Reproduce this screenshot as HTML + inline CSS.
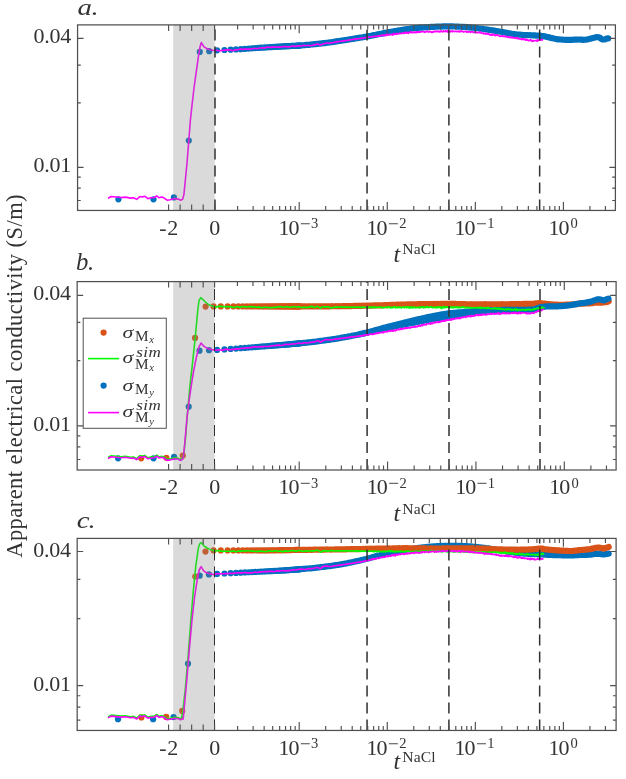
<!DOCTYPE html>
<html><head><meta charset="utf-8"><title>chart</title><style>html,body{margin:0;padding:0;background:#fff;overflow:hidden}</style></head><body><svg width="626" height="779" viewBox="0 0 626 779" style="display:block;will-change:transform;font-family:'Liberation Serif',serif"><g fill="#0072BD"><circle cx="118.4" cy="199.3" r="3.1"/><circle cx="153.5" cy="199.3" r="3.1"/><circle cx="173.9" cy="197.4" r="3.1"/><circle cx="188.8" cy="140.6" r="3.1"/><circle cx="199.8" cy="51.9" r="3.1"/><circle cx="209.2" cy="51.2" r="3.1"/><circle cx="217.03" cy="50.3" r="3.1"/><circle cx="224.45" cy="50" r="3.1"/><circle cx="230.67" cy="49.71" r="3.1"/><circle cx="236.01" cy="49.42" r="3.1"/><circle cx="240.7" cy="49.16" r="3.1"/><circle cx="244.88" cy="48.89" r="3.1"/><circle cx="248.64" cy="48.61" r="3.1"/><circle cx="252.07" cy="48.35" r="3.1"/><circle cx="255.21" cy="48.11" r="3.1"/><circle cx="258.12" cy="47.9" r="3.1"/><circle cx="260.82" cy="47.71" r="3.1"/><circle cx="263.34" cy="47.55" r="3.1"/><circle cx="265.71" cy="47.4" r="3.1"/><circle cx="267.94" cy="47.27" r="3.1"/><circle cx="270.04" cy="47.15" r="3.1"/><circle cx="272.04" cy="47.03" r="3.1"/><circle cx="273.93" cy="46.92" r="3.1"/><circle cx="275.74" cy="46.82" r="3.1"/><circle cx="277.47" cy="46.72" r="3.1"/><circle cx="279.12" cy="46.63" r="3.1"/><circle cx="280.7" cy="46.54" r="3.1"/><circle cx="282.22" cy="46.45" r="3.1"/><circle cx="283.68" cy="46.37" r="3.1"/><circle cx="285.09" cy="46.29" r="3.1"/><circle cx="286.45" cy="46.22" r="3.1"/><circle cx="287.76" cy="46.15" r="3.1"/><circle cx="289.03" cy="46.09" r="3.1"/><circle cx="290.26" cy="46.03" r="3.1"/><circle cx="291.45" cy="45.97" r="3.1"/><circle cx="292.6" cy="45.92" r="3.1"/><circle cx="293.72" cy="45.86" r="3.1"/><circle cx="294.81" cy="45.81" r="3.1"/><circle cx="295.86" cy="45.75" r="3.1"/><circle cx="296.89" cy="45.69" r="3.1"/><circle cx="297.89" cy="45.63" r="3.1"/><circle cx="298.87" cy="45.57" r="3.1"/><circle cx="299.82" cy="45.51" r="3.1"/></g><path d="M299 45.64 L300 45.48 L301 45.36 L302 45.35 L303 45.25 L304 45.18 L305 45.04 L306 44.95 L307 44.91 L308 44.94 L309 44.88 L310 44.66 L311 44.54 L312 44.43 L313 44.3 L314 44.2 L315 44.15 L316 44.05 L317 43.95 L318 43.84 L319 43.7 L320 43.64 L321 43.55 L322 43.36 L323 43.21 L324 43.13 L325 43.09 L326 42.94 L327 42.74 L328 42.65 L329 42.5 L330 42.32 L331 42.24 L332 42.13 L333 41.96 L334 41.82 L335 41.57 L336 41.43 L337 41.34 L338 41.09 L339 40.98 L340 40.91 L341 40.73 L342 40.51 L343 40.37 L344 40.24 L345 40.13 L346 40 L347 39.8 L348 39.66 L349 39.49 L350 39.26 L351 39.13 L352 39.03 L353 38.85 L354 38.64 L355 38.5 L356 38.28 L357 38.14 L358 38.08 L359 37.84 L360 37.66 L361 37.52 L362 37.38 L363 37.17 L364 36.94 L365 36.87 L366 36.77 L367 36.49 L368 36.24 L369 36.14 L370 35.95 L371 35.8 L372 35.58 L373 35.34 L374 35.14 L375 34.98 L376 34.81 L377 34.54 L378 34.28 L379 34.14 L380 34.03 L381 33.79 L382 33.6 L383 33.38 L384 33.12 L385 32.89 L386 32.69 L387 32.57 L388 32.36 L389 32.11 L390 31.97 L391 31.82 L392 31.67 L393 31.44 L394 31.18 L395 31.04 L396 30.96 L397 30.81 L398 30.6 L399 30.38 L400 30.21 L401 30.04 L402 29.89 L403 29.71 L404 29.53 L405 29.4 L406 29.26 L407 29.13 L408 29.06 L409 28.98 L410 28.82 L411 28.58 L412 28.41 L413 28.35 L414 28.28 L415 28.11 L416 28.04 L417 28.05 L418 27.87 L419 27.71 L420 27.64 L421 27.59 L422 27.55 L423 27.54 L424 27.44 L425 27.32 L426 27.26 L427 27.24 L428 27.2 L429 27.13 L430 27.01 L431 26.91 L432 26.86 L433 26.87 L434 26.88 L435 26.76 L436 26.68 L437 26.66 L438 26.61 L439 26.52 L440 26.52 L441 26.61 L442 26.55 L443 26.42 L444 26.37 L445 26.32 L446 26.37 L447 26.45 L448 26.43 L449 26.42 L450 26.44 L451 26.45 L452 26.41 L453 26.41 L454 26.5 L455 26.51 L456 26.53 L457 26.56 L458 26.6 L459 26.7 L460 26.73 L461 26.74 L462 26.82 L463 26.9 L464 26.98 L465 26.95 L466 26.99 L467 27.13 L468 27.19 L469 27.33 L470 27.45 L471 27.56 L472 27.63 L473 27.75 L474 27.84 L475 27.89 L476 28.03 L477 28.13 L478 28.3 L479 28.48 L480 28.61 L481 28.7 L482 28.75 L483 28.9 L484 29.08 L485 29.21 L486 29.35 L487 29.52 L488 29.72 L489 29.86 L490 30 L491 30.16 L492 30.25 L493 30.41 L494 30.57 L495 30.76 L496 31 L497 31.16 L498 31.31 L499 31.52 L500 31.67 L501 31.78 L502 31.93 L503 32.05 L504 32.27 L505 32.46 L506 32.65 L507 32.9 L508 33.11 L509 33.3 L510 33.42 L511 33.62 L512 33.8 L513 33.95 L514 34.12 L515 34.27 L516 34.38 L517 34.47 L518 34.56 L519 34.6 L520 34.67 L521 34.78 L522 34.89 L523 35.03 L524 34.98 L525 34.99 L526 35.11 L527 35.12 L528 35.19 L529 35.26 L530 35.22 L531 35.27 L532 35.37 L533 35.41 L534 35.41 L535 35.45 L536 35.56 L537 35.53 L538 35.53 L539 35.61 L540 35.68 L541 35.83 L542 35.98 L543 36.03 L544 36.16 L545 36.38 L546 36.68 L547 36.9 L548 37.08 L549 37.38 L550 37.62 L551 37.91 L552 38.12 L553 38.31 L554 38.57 L555 38.79 L556 38.95 L557 39.17 L558 39.36 L559 39.42 L560 39.47 L561 39.49 L562 39.59 L563 39.7 L564 39.74 L565 39.78 L566 39.81 L567 39.79 L568 39.82 L569 39.85 L570 39.82 L571 39.81 L572 39.82 L573 39.76 L574 39.65 L575 39.61 L576 39.64 L577 39.57 L578 39.49 L579 39.51 L580 39.62 L581 39.63 L582 39.67 L583 39.83 L584 39.81 L585 39.77 L586 39.68 L587 39.42 L588 39.2 L589 38.95 L590 38.7 L591 38.56 L592 38.28 L593 38.03 L594 37.81 L595 37.52 L596 37.32 L597 37.12 L598 37.16 L599 37.39 L600 37.72 L601 38.64 L602 39.37 L603 39.51 L604 39.51 L605 39.38 L606 38.83 L607 38.49 L608 38.33 L608.3 38.39" fill="none" stroke="#0072BD" stroke-width="6.2" stroke-linecap="round" stroke-linejoin="round"/>
<path d="M108 198.3 L111.2 196.5 L116 197 L120.8 197.5 L125.6 197.1 L130.4 198.1 L133.5 197.8 L136.7 199.4 L139.9 196.5 L142.3 197 L144.7 196.2 L147.9 198.6 L151.1 197.8 L154.3 197.5 L156.7 195.9 L159.1 197.8 L161.5 197 L163.9 197.8 L167.1 200.2 L170.3 199.7 L174.3 198.6 L178.3 199.1 L180.7 200.2 L182.7 199.1 L183.9 194.6 L185 183.6 L187 163 L188.8 140.6 L190.4 120 L192.1 104.4 L194 88 L196 73.7 L198.5 55.8 L200 47 L201.3 42.5 L202.3 44.3 L203.6 46.3 L205.5 47.8 L207.5 48.9 L210 49.7 L212.6 50.3 L214.7 50.45 L215.7 50.26 L216.7 50.26 L217.7 50.54 L218.7 50.75 L219.7 50.81 L220.7 50.6 L221.7 50.58 L222.7 50.41 L223.7 50.38 L224.7 50.12 L225.7 49.92 L226.7 49.85 L227.7 49.82 L228.7 49.85 L229.7 49.95 L230.7 50.03 L231.7 50.51 L232.7 50.48 L233.7 50.34 L234.7 49.98 L235.7 49.83 L236.7 49.76 L237.7 49.75 L238.7 49.53 L239.7 49.13 L240.7 49.03 L241.7 48.99 L242.7 49.57 L243.7 49.3 L244.7 49.15 L245.7 49.09 L246.7 48.96 L247.7 49.08 L248.7 48.99 L249.7 49.08 L250.7 48.96 L251.7 48.7 L252.7 48.72 L253.7 48.54 L254.7 48.54 L255.7 48.42 L256.7 48.79 L257.7 48.59 L258.7 48.31 L259.7 48.01 L260.7 47.94 L261.7 48.04 L262.7 47.89 L263.7 48.05 L264.7 47.86 L265.7 47.76 L266.7 47.18 L267.7 47.08 L268.7 47.25 L269.7 47.45 L270.7 47.42 L271.7 46.97 L272.7 47.09 L273.7 47.16 L274.7 47.1 L275.7 47.06 L276.7 47.01 L277.7 47.23 L278.7 46.99 L279.7 47.14 L280.7 47.04 L281.7 47.06 L282.7 46.69 L283.7 46.54 L284.7 46.63 L285.7 46.61 L286.7 46.75 L287.7 46.67 L288.7 46.85 L289.7 46.77 L290.7 46.64 L291.7 46.14 L292.7 46.03 L293.7 46.1 L294.7 46.35 L295.7 46.34 L296.7 46.11 L297.7 45.99 L298.7 45.72 L299.7 45.92 L300.7 45.94 L301.7 45.93 L302.7 45.49 L303.7 45.37 L304.7 45.56 L305.7 45.74 L306.7 45.57 L307.7 45.48 L308.7 45.53 L309.7 45.68 L310.7 45.49 L311.7 45.36 L312.7 45.2 L313.7 45.09 L314.7 44.7 L315.7 44.59 L316.7 44.07 L317.7 44.3 L318.7 44.15 L319.7 44.85 L320.7 45.03 L321.7 44.6 L322.7 43.97 L323.7 43.67 L324.7 43.52 L325.7 43.14 L326.7 42.93 L327.7 43.03 L328.7 43.28 L329.7 43.24 L330.7 42.98 L331.7 42.7 L332.7 42.69 L333.7 42.53 L334 42.21 L334.4 42.13 L334.8 42.21 L335.2 42.03 L335.6 42.02 L336 42.03 L336.4 42.01 L336.8 41.8 L337.2 41.92 L337.6 41.61 L338 41.78 L338.4 41.51 L338.8 41.48 L339.2 41.61 L339.6 41.44 L340 41.34 L340.4 41.32 L340.8 41.34 L341.2 41.23 L341.6 41.17 L342 41.22 L342.4 40.98 L342.8 40.94 L343.2 40.88 L343.6 40.98 L344 40.9 L344.4 40.87 L344.8 40.68 L345.2 40.61 L345.6 40.65 L346 40.46 L346.4 40.52 L346.8 40.45 L347.2 40.25 L347.6 40.25 L348 40.19 L348.4 40.31 L348.8 40.33 L349.2 40.01 L349.6 39.96 L350 39.67 L350.4 39.86 L350.8 39.78 L351.2 39.62 L351.6 39.74 L352 39.45 L352.4 39.52 L352.8 39.49 L353.2 39.29 L353.6 39.45 L354 39.41 L354.4 39.08 L354.8 39.01 L355.2 39.18 L355.6 39.04 L356 38.84 L356.4 38.89 L356.8 38.85 L357.2 38.78 L357.6 38.84 L358 38.73 L358.4 38.85 L358.8 38.74 L359.2 38.58 L359.6 38.58 L360 38.56 L360.4 38.41 L360.8 38.07 L361.2 38.32 L361.6 38.14 L362 38.32 L362.4 38.02 L362.8 38.03 L363.2 37.95 L363.6 38.11 L364 37.81 L364.4 37.68 L364.8 37.72 L365.2 37.53 L365.6 37.58 L366 37.5 L366.4 37.49 L366.8 37.74 L367.2 37.27 L367.6 37.29 L368 37.2 L368.4 37.31 L368.8 36.9 L369.2 36.94 L369.6 37.02 L370 37.08 L370.4 36.91 L370.8 36.77 L371.2 36.64 L371.6 36.87 L372 37.02 L372.4 36.74 L372.8 36.66 L373.2 36.66 L373.6 36.31 L374 36.4 L374.4 36.36 L374.8 36.44 L375.2 36.31 L375.6 35.99 L376 36.48 L376.4 36.57 L376.8 36.06 L377.2 36.17 L377.6 36.09 L378 36.17 L378.4 35.57 L378.8 36.28 L379.2 35.72 L379.6 36.11 L380 35.76 L380.4 35.6 L380.8 35.61 L381.2 35.84 L381.6 35.33 L382 35.41 L382.4 35.34 L382.8 34.96 L383.2 35.72 L383.6 35.48 L384 35.27 L384.4 35.56 L384.8 34.92 L385.2 35.12 L385.6 35.59 L386 35.33 L386.4 34.36 L386.8 33.99 L387.2 34.61 L387.6 35.18 L388 34.68 L388.4 34.71 L388.8 34.92 L389.2 34.42 L389.6 34.71 L390 34.84 L390.4 34.7 L390.8 34.63 L391.2 34.27 L391.6 34.58 L392 34.23 L392.4 34.74 L392.8 35.11 L393.2 33.99 L393.6 33.47 L394 33.99 L394.4 34.21 L394.8 34.38 L395.2 34.35 L395.6 33.68 L396 33.63 L396.4 34.26 L396.8 33.44 L397.2 34.11 L397.6 33.63 L398 33.91 L398.4 33.84 L398.8 33.82 L399.2 33.78 L399.6 33.14 L400 33.52 L400.4 33.38 L400.8 33.43 L401.2 33.69 L401.6 33.15 L402 32.96 L402.4 32.91 L402.8 33 L403.2 33.31 L403.6 32.75 L404 33.36 L404.4 33.04 L404.8 32.83 L405.2 32.42 L405.6 32.9 L406 33.01 L406.4 32.17 L406.8 33.11 L407.2 33.22 L407.6 32.76 L408 32.77 L408.4 33.38 L408.8 32.96 L409.2 32.22 L409.6 32.49 L410 32.41 L410.4 32.39 L410.8 31.63 L411.2 32.64 L411.6 32.15 L412 32.39 L412.4 32.27 L412.8 32.58 L413.2 32.17 L413.6 31.99 L414 32.4 L414.4 32.67 L414.8 32.08 L415.2 32.61 L415.6 32.23 L416 31.94 L416.4 32.6 L416.8 31.81 L417.2 32.39 L417.6 31.87 L418 32.17 L418.4 31.59 L418.8 31.7 L419.2 32.31 L419.6 32 L420 31.94 L420.4 31.76 L420.8 32.04 L421.2 31.41 L421.6 31.49 L422 31.79 L422.4 31.55 L422.8 31.58 L423.2 31.77 L423.6 31.73 L424 31.69 L424.4 32.3 L424.8 32.07 L425.2 32.13 L425.6 31.7 L426 31.53 L426.4 31.21 L426.8 31.56 L427.2 30.97 L427.6 31.46 L428 31.89 L428.4 32.17 L428.8 31.94 L429.2 31.33 L429.6 31.77 L430 31.34 L430.4 31.86 L430.8 31.55 L431.2 31.86 L431.6 32.42 L432 31.87 L432.4 32.33 L432.8 31.61 L433.2 31.43 L433.6 31.98 L434 32.1 L434.4 31.34 L434.8 31.54 L435.2 31.04 L435.6 31.44 L436 31.79 L436.4 31.46 L436.8 31.3 L437.2 31.01 L437.6 31.6 L438 31.73 L438.4 31.66 L438.8 31.54 L439.2 31.03 L439.6 32.03 L440 31.42 L440.4 31.39 L440.8 31.68 L441.2 30.72 L441.6 31.41 L442 31.38 L442.4 31.54 L442.8 31.86 L443.2 31.57 L443.6 30.81 L444 31.3 L444.4 31.47 L444.8 31.45 L445.2 30.98 L445.6 30.85 L446 31.58 L446.4 31.51 L446.8 31.39 L447.2 30.83 L447.6 31.99 L448 30.44 L448.4 31.28 L448.8 32.09 L449.2 31.35 L449.6 31.48 L450 31.02 L450.4 31.85 L450.8 30.98 L451.2 31.49 L451.6 31.45 L452 31.07 L452.4 31.71 L452.8 30.95 L453.2 31.19 L453.6 31.41 L454 31.29 L454.4 31.58 L454.8 31.73 L455.2 31.34 L455.6 31.26 L456 31.27 L456.4 31.32 L456.8 31.71 L457.2 31.38 L457.6 31.59 L458 31.43 L458.4 31.18 L458.8 31.75 L459.2 31.13 L459.6 31.47 L460 31.97 L460.4 31.12 L460.8 31.47 L461.2 30.97 L461.6 31.33 L462 31.01 L462.4 31.39 L462.8 31.34 L463.2 31.57 L463.6 32.06 L464 31.64 L464.4 31.78 L464.8 31.56 L465.2 31.51 L465.6 31.34 L466 31.04 L466.4 31.68 L466.8 32.22 L467.2 31.86 L467.6 31.55 L468 32.3 L468.4 31.64 L468.8 31.6 L469.2 31.43 L469.6 31.55 L470 31.81 L470.4 32.58 L470.8 31.89 L471.2 31.65 L471.6 31.82 L472 31.98 L472.4 31.52 L472.8 32.16 L473.2 32.38 L473.6 32.29 L474 32.42 L474.4 31.82 L474.8 31.72 L475.2 32.74 L475.6 32.71 L476 31.88 L476.4 32.49 L476.8 32.47 L477.2 32.68 L477.6 32.62 L478 32.42 L478.4 32.7 L478.8 32.73 L479.2 32.71 L479.6 32.16 L480 31.84 L480.4 32.62 L480.8 32.39 L481.2 33.06 L481.6 33.27 L482 33.18 L482.4 33.02 L482.8 33.22 L483.2 33.64 L483.6 33.08 L484 33.68 L484.4 33.67 L484.8 33.58 L485.2 34.03 L485.6 33.38 L486 33.99 L486.4 33.43 L486.8 33.55 L487.2 33.52 L487.6 34.08 L488 33.69 L488.4 34.08 L488.8 33.75 L489.2 34.54 L489.6 34.86 L490 34.4 L490.4 34.93 L490.8 34.64 L491.2 35.23 L491.6 34.62 L492 34.13 L492.4 35.21 L492.8 34.74 L493.2 34.5 L493.6 34.69 L494 34.44 L494.4 34.99 L494.8 34.75 L495.2 35.66 L495.6 35.45 L496 34.75 L496.4 34.86 L496.8 35.24 L497.2 34.85 L497.6 35.51 L498 35.59 L498.4 35.41 L498.8 35.55 L499.2 35.95 L499.6 36.31 L500 36.39 L500.4 35.97 L500.8 36.3 L501.2 35.83 L501.6 36.26 L502 35.86 L502.4 36.48 L502.8 35.88 L503.2 36.03 L503.6 36.4 L504 36.64 L504.4 36.04 L504.8 36.39 L505.2 36.67 L505.6 36.75 L506 36.45 L506.4 36.82 L506.8 36.75 L507.2 37.36 L507.6 37.13 L508 36.57 L508.4 36.33 L508.8 37.14 L509.2 37.56 L509.6 37.28 L510 37.57 L510.4 37.17 L510.8 36.93 L511.2 37.69 L511.6 37.53 L512 37.77 L512.4 37.15 L512.8 37.72 L513.2 37.51 L513.6 38.04 L514 37.64 L514.4 37.68 L514.8 37.75 L515.2 38.41 L515.6 38.06 L516 37.86 L516.4 37.83 L516.8 37.88 L517.2 38.77 L517.6 37.74 L518 38.12 L518.4 38.67 L518.8 38.91 L519.2 38.53 L519.6 38.9 L520 38.95 L520.4 39.09 L520.8 38.84 L521.2 39.43 L521.6 39.02 L522 39.52 L522.4 38.72 L522.8 39.45 L523.2 38.79 L523.6 38.78 L524 39.5 L524.4 39.13 L524.8 39.62 L525.2 39.18 L525.6 40.14 L526 39.68 L526.4 39.37 L526.8 39.87 L527.2 40.17 L527.6 39.69 L528 40.19 L528.4 40.77 L528.8 40.46 L529.2 40.26 L529.6 40.17 L530 40.65 L530.4 40.05 L530.8 39.64 L531.2 40.5 L531.6 40.44 L532 41.43 L532.4 40.94 L532.8 40.59 L533.2 40.53 L533.6 41.06 L534 40.57 L534.4 40.6 L534.8 40.69 L535.2 40.67 L535.6 40.59 L536 40.52 L536.4 40.84 L536.8 40.91 L537.2 39.75 L537.6 41.11 L538 40.26 L538.4 40.59 L538.8 39.9 L539.2 40.22 L539.6 40.14 L540 40.06 L540.4 40.26 L540.8 40.13 L541.2 39.53 L541.6 39.77 L542 39.98 L542.4 39.91 L542.8 39.5 L543.2 39.45" fill="none" stroke="#FF00FF" stroke-width="1.6" stroke-linejoin="round"/>
<rect x="173.2" y="24.9" width="41.5" height="185.55" fill="#808080" fill-opacity="0.29"/>
<path d="M215 210.45V24.9" stroke="#303030" stroke-width="1.5" stroke-dasharray="11 6" stroke-dashoffset="0" fill="none"/><path d="M367.05 210.45V24.9" stroke="#303030" stroke-width="1.5" stroke-dasharray="11 6" stroke-dashoffset="0" fill="none"/><path d="M448.9 210.45V24.9" stroke="#303030" stroke-width="1.5" stroke-dasharray="11 6" stroke-dashoffset="0" fill="none"/><path d="M539.65 210.45V24.9" stroke="#303030" stroke-width="1.5" stroke-dasharray="11 6" stroke-dashoffset="0" fill="none"/>
<rect x="77.56" y="24.9" width="537.84" height="185.55" fill="none" stroke="#505050" stroke-width="1.25"/><path d="M77.56 38.4h6M615.4 38.4h-6M77.56 65.15h3.2M615.4 65.15h-3.2M77.56 102.85h3.2M615.4 102.85h-3.2M77.56 167.3h6M615.4 167.3h-6M77.56 177.1h3.2M615.4 177.1h-3.2M77.56 188.05h3.2M615.4 188.05h-3.2M77.56 200.46h3.2M615.4 200.46h-3.2M168.6 210.45v-6.0M168.6 24.9v6.0M180.12 210.45v-6.0M180.12 24.9v6.0M191.65 210.45v-6.0M191.65 24.9v6.0M203.17 210.45v-6.0M203.17 24.9v6.0M214.6 210.45v-6.0M214.6 24.9v6.0M237.63 210.45v-4.5M237.63 24.9v4.5M253.14 210.45v-4.5M253.14 24.9v4.5M264.14 210.45v-4.5M264.14 24.9v4.5M272.68 210.45v-4.5M272.68 24.9v4.5M279.65 210.45v-4.5M279.65 24.9v4.5M285.55 210.45v-4.5M285.55 24.9v4.5M290.66 210.45v-4.5M290.66 24.9v4.5M295.16 210.45v-4.5M295.16 24.9v4.5M299.19 210.45v-8.4M299.19 24.9v8.4M325.7 210.45v-4.5M325.7 24.9v4.5M341.21 210.45v-4.5M341.21 24.9v4.5M352.21 210.45v-4.5M352.21 24.9v4.5M360.75 210.45v-4.5M360.75 24.9v4.5M367.72 210.45v-4.5M367.72 24.9v4.5M373.62 210.45v-4.5M373.62 24.9v4.5M378.73 210.45v-4.5M378.73 24.9v4.5M383.23 210.45v-4.5M383.23 24.9v4.5M387.26 210.45v-8.4M387.26 24.9v8.4M413.77 210.45v-4.5M413.77 24.9v4.5M429.28 210.45v-4.5M429.28 24.9v4.5M440.28 210.45v-4.5M440.28 24.9v4.5M448.82 210.45v-4.5M448.82 24.9v4.5M455.79 210.45v-4.5M455.79 24.9v4.5M461.69 210.45v-4.5M461.69 24.9v4.5M466.8 210.45v-4.5M466.8 24.9v4.5M471.3 210.45v-4.5M471.3 24.9v4.5M475.33 210.45v-8.4M475.33 24.9v8.4M501.84 210.45v-4.5M501.84 24.9v4.5M517.35 210.45v-4.5M517.35 24.9v4.5M528.35 210.45v-4.5M528.35 24.9v4.5M536.89 210.45v-4.5M536.89 24.9v4.5M543.86 210.45v-4.5M543.86 24.9v4.5M549.76 210.45v-4.5M549.76 24.9v4.5M554.87 210.45v-4.5M554.87 24.9v4.5M559.37 210.45v-4.5M559.37 24.9v4.5M563.4 210.45v-8.4M563.4 24.9v8.4M589.91 210.45v-4.5M589.91 24.9v4.5M605.42 210.45v-4.5M605.42 24.9v4.5" stroke="#505050" stroke-width="1.15" fill="none"/>
<g fill="#333333"><text transform="translate(77.56 14.6) scale(1.2 1)" font-size="24" font-style="italic" letter-spacing="-0.4">a.</text><text x="71.11" y="43.4" font-size="22" text-anchor="end" letter-spacing="-0.25">0.04</text><text x="71.11" y="172.3" font-size="22" text-anchor="end" letter-spacing="-0.25">0.01</text><text x="169" y="234.65" font-size="22" text-anchor="middle" letter-spacing="0.6">-2</text><text x="214.7" y="234.65" font-size="22" text-anchor="middle">0</text><text x="278.39" y="234.65" font-size="22" letter-spacing="-1">10</text><path d="M300.79 223.75h9" stroke="#333333" stroke-width="0.9"/><text x="311.09" y="227.95" font-size="14.5">3</text><text x="366.46" y="234.65" font-size="22" letter-spacing="-1">10</text><path d="M388.86 223.75h9" stroke="#333333" stroke-width="0.9"/><text x="399.16" y="227.95" font-size="14.5">2</text><text x="454.53" y="234.65" font-size="22" letter-spacing="-1">10</text><path d="M476.93 223.75h9" stroke="#333333" stroke-width="0.9"/><text x="487.23" y="227.95" font-size="14.5">1</text><text x="548.4" y="234.65" font-size="22" letter-spacing="-1">10</text><text x="570.6" y="227.95" font-size="14.5">0</text><text x="393.6" y="261.55" font-size="24" font-style="italic">t</text><text transform="translate(402.3 254.25) scale(1.08 1)" font-size="14.5" letter-spacing="0.1">NaCl</text></g>
<g fill="#D95319"><circle cx="141.2" cy="458.3" r="3.1"/><circle cx="166.4" cy="457.8" r="3.1"/><circle cx="182.8" cy="455.5" r="3.1"/><circle cx="195.1" cy="337.9" r="3.1"/><circle cx="205.6" cy="306.6" r="3.1"/><circle cx="213.6" cy="306.4" r="3.1"/><circle cx="220.8" cy="306.4" r="3.1"/><circle cx="227.59" cy="306.4" r="3.1"/><circle cx="233.35" cy="306.4" r="3.1"/><circle cx="238.35" cy="306.4" r="3.1"/><circle cx="242.78" cy="306.4" r="3.1"/><circle cx="246.74" cy="306.4" r="3.1"/><circle cx="250.34" cy="306.4" r="3.1"/><circle cx="253.62" cy="306.4" r="3.1"/><circle cx="256.65" cy="306.4" r="3.1"/><circle cx="259.45" cy="306.4" r="3.1"/><circle cx="262.06" cy="306.4" r="3.1"/><circle cx="264.51" cy="306.4" r="3.1"/><circle cx="266.8" cy="306.4" r="3.1"/><circle cx="268.97" cy="306.4" r="3.1"/><circle cx="271.02" cy="306.4" r="3.1"/><circle cx="272.97" cy="306.4" r="3.1"/><circle cx="274.82" cy="306.4" r="3.1"/><circle cx="276.59" cy="306.4" r="3.1"/><circle cx="278.28" cy="306.4" r="3.1"/><circle cx="279.89" cy="306.4" r="3.1"/><circle cx="281.44" cy="306.4" r="3.1"/><circle cx="282.94" cy="306.4" r="3.1"/><circle cx="284.37" cy="306.4" r="3.1"/><circle cx="285.75" cy="306.4" r="3.1"/><circle cx="287.09" cy="306.4" r="3.1"/><circle cx="288.38" cy="306.4" r="3.1"/><circle cx="289.63" cy="306.4" r="3.1"/><circle cx="290.84" cy="306.4" r="3.1"/><circle cx="292.01" cy="306.4" r="3.1"/><circle cx="293.14" cy="306.4" r="3.1"/><circle cx="294.25" cy="306.4" r="3.1"/><circle cx="295.32" cy="306.4" r="3.1"/><circle cx="296.36" cy="306.4" r="3.1"/><circle cx="297.38" cy="306.4" r="3.1"/><circle cx="298.37" cy="306.4" r="3.1"/><circle cx="299.34" cy="306.4" r="3.1"/></g><path d="M299 306.4 L300 306.36 L301 306.32 L302 306.41 L303 306.44 L304 306.39 L305 306.38 L306 306.42 L307 306.5 L308 306.45 L309 306.4 L310 306.38 L311 306.42 L312 306.48 L313 306.38 L314 306.39 L315 306.43 L316 306.39 L317 306.39 L318 306.35 L319 306.31 L320 306.35 L321 306.36 L322 306.3 L323 306.37 L324 306.39 L325 306.29 L326 306.27 L327 306.3 L328 306.36 L329 306.33 L330 306.32 L331 306.25 L332 306.2 L333 306.23 L334 306.24 L335 306.26 L336 306.18 L337 306.27 L338 306.3 L339 306.19 L340 306.25 L341 306.25 L342 306.22 L343 306.08 L344 306.02 L345 306.13 L346 306.13 L347 306.05 L348 305.98 L349 306.04 L350 306.12 L351 306.03 L352 305.98 L353 305.99 L354 305.94 L355 305.91 L356 305.93 L357 305.94 L358 305.95 L359 305.91 L360 305.83 L361 305.82 L362 305.79 L363 305.7 L364 305.74 L365 305.75 L366 305.69 L367 305.71 L368 305.64 L369 305.61 L370 305.64 L371 305.59 L372 305.56 L373 305.51 L374 305.39 L375 305.37 L376 305.39 L377 305.4 L378 305.41 L379 305.33 L380 305.29 L381 305.32 L382 305.33 L383 305.26 L384 305.2 L385 305.15 L386 305.09 L387 305.09 L388 305.06 L389 305.01 L390 304.95 L391 304.84 L392 304.79 L393 304.8 L394 304.87 L395 304.9 L396 304.79 L397 304.66 L398 304.69 L399 304.73 L400 304.63 L401 304.62 L402 304.65 L403 304.63 L404 304.61 L405 304.57 L406 304.55 L407 304.46 L408 304.42 L409 304.41 L410 304.42 L411 304.4 L412 304.29 L413 304.34 L414 304.41 L415 304.42 L416 304.4 L417 304.28 L418 304.2 L419 304.21 L420 304.22 L421 304.14 L422 304.13 L423 304.19 L424 304.14 L425 304.12 L426 304.18 L427 304.16 L428 304.14 L429 304.16 L430 304.12 L431 304.08 L432 304.04 L433 304.06 L434 304.04 L435 303.96 L436 303.99 L437 303.98 L438 303.95 L439 304.01 L440 303.99 L441 303.94 L442 303.97 L443 303.98 L444 303.89 L445 303.81 L446 303.91 L447 303.96 L448 303.84 L449 303.78 L450 303.86 L451 303.87 L452 303.89 L453 303.94 L454 303.95 L455 303.93 L456 303.95 L457 304.08 L458 304.05 L459 304.04 L460 304.13 L461 304.13 L462 304.12 L463 304.08 L464 304.07 L465 304.16 L466 304.25 L467 304.29 L468 304.3 L469 304.31 L470 304.28 L471 304.22 L472 304.25 L473 304.32 L474 304.32 L475 304.25 L476 304.23 L477 304.23 L478 304.26 L479 304.27 L480 304.26 L481 304.31 L482 304.32 L483 304.35 L484 304.31 L485 304.19 L486 304.26 L487 304.38 L488 304.4 L489 304.36 L490 304.33 L491 304.33 L492 304.26 L493 304.24 L494 304.3 L495 304.3 L496 304.35 L497 304.31 L498 304.23 L499 304.33 L500 304.32 L501 304.24 L502 304.21 L503 304.22 L504 304.31 L505 304.34 L506 304.29 L507 304.24 L508 304.24 L509 304.24 L510 304.16 L511 304.12 L512 304.14 L513 304.18 L514 304.15 L515 304.11 L516 304.16 L517 304.1 L518 303.97 L519 304.01 L520 304.05 L521 304 L522 303.98 L523 303.96 L524 303.95 L525 303.94 L526 303.94 L527 303.89 L528 303.82 L529 303.85 L530 303.84 L531 303.84 L532 303.83 L533 303.73 L534 303.67 L535 303.57 L536 303.4 L537 303.28 L538 303.22 L539 303.18 L540 303.19 L541 303.26 L542 303.35 L543 303.48 L544 303.63 L545 303.69 L546 303.84 L547 304.01 L548 304.03 L549 304.08 L550 304.22 L551 304.31 L552 304.4 L553 304.49 L554 304.56 L555 304.61 L556 304.67 L557 304.72 L558 304.78 L559 304.76 L560 304.76 L561 304.85 L562 304.85 L563 304.78 L564 304.76 L565 304.7 L566 304.61 L567 304.59 L568 304.57 L569 304.57 L570 304.51 L571 304.46 L572 304.38 L573 304.25 L574 304.23 L575 304.22 L576 304.12 L577 303.92 L578 303.88 L579 303.88 L580 303.76 L581 303.67 L582 303.63 L583 303.62 L584 303.61 L585 303.51 L586 303.52 L587 303.51 L588 303.36 L589 303.33 L590 303.28 L591 303.25 L592 303.16 L593 302.92 L594 302.73 L595 302.61 L596 302.57 L597 302.61 L598 302.6 L599 302.64 L600 302.66 L601 302.59 L602 302.59 L603 302.45 L604 302.3 L605 302.27 L606 302.12 L607 301.87 L608 301.62 L608.7 301.4" fill="none" stroke="#D95319" stroke-width="6.2" stroke-linecap="round" stroke-linejoin="round"/>
<g fill="#0072BD"><circle cx="118.1" cy="458.3" r="3.1"/><circle cx="153.5" cy="458.3" r="3.1"/><circle cx="174.1" cy="456.8" r="3.1"/><circle cx="188.7" cy="406.7" r="3.1"/><circle cx="199.5" cy="350.7" r="3.1"/><circle cx="209" cy="350.2" r="3.1"/><circle cx="217.03" cy="349.9" r="3.1"/><circle cx="224.45" cy="349.4" r="3.1"/><circle cx="230.67" cy="348.96" r="3.1"/><circle cx="236.01" cy="348.57" r="3.1"/><circle cx="240.7" cy="348.22" r="3.1"/><circle cx="244.88" cy="347.89" r="3.1"/><circle cx="248.64" cy="347.59" r="3.1"/><circle cx="252.07" cy="347.32" r="3.1"/><circle cx="255.21" cy="347.07" r="3.1"/><circle cx="258.12" cy="346.83" r="3.1"/><circle cx="260.82" cy="346.61" r="3.1"/><circle cx="263.34" cy="346.41" r="3.1"/><circle cx="265.71" cy="346.23" r="3.1"/><circle cx="267.94" cy="346.05" r="3.1"/><circle cx="270.04" cy="345.88" r="3.1"/><circle cx="272.04" cy="345.72" r="3.1"/><circle cx="273.93" cy="345.57" r="3.1"/><circle cx="275.74" cy="345.43" r="3.1"/><circle cx="277.47" cy="345.29" r="3.1"/><circle cx="279.12" cy="345.15" r="3.1"/><circle cx="280.7" cy="345.02" r="3.1"/><circle cx="282.22" cy="344.89" r="3.1"/><circle cx="283.68" cy="344.76" r="3.1"/><circle cx="285.09" cy="344.64" r="3.1"/><circle cx="286.45" cy="344.52" r="3.1"/><circle cx="287.76" cy="344.41" r="3.1"/><circle cx="289.03" cy="344.29" r="3.1"/><circle cx="290.26" cy="344.18" r="3.1"/><circle cx="291.45" cy="344.08" r="3.1"/><circle cx="292.6" cy="343.97" r="3.1"/><circle cx="293.72" cy="343.87" r="3.1"/><circle cx="294.81" cy="343.77" r="3.1"/><circle cx="295.86" cy="343.67" r="3.1"/><circle cx="296.89" cy="343.58" r="3.1"/><circle cx="297.89" cy="343.48" r="3.1"/><circle cx="298.87" cy="343.39" r="3.1"/><circle cx="299.82" cy="343.3" r="3.1"/></g><path d="M299 343.37 L300 343.23 L301 343.07 L302 343.07 L303 343 L304 342.83 L305 342.81 L306 342.77 L307 342.6 L308 342.43 L309 342.34 L310 342.22 L311 342.13 L312 342.05 L313 341.92 L314 341.82 L315 341.72 L316 341.64 L317 341.54 L318 341.29 L319 341.14 L320 341.03 L321 340.82 L322 340.75 L323 340.64 L324 340.46 L325 340.38 L326 340.23 L327 340.02 L328 339.9 L329 339.83 L330 339.69 L331 339.44 L332 339.25 L333 339.14 L334 339.07 L335 338.95 L336 338.76 L337 338.6 L338 338.4 L339 338.21 L340 338.07 L341 337.85 L342 337.66 L343 337.54 L344 337.32 L345 337.15 L346 337.03 L347 336.86 L348 336.62 L349 336.39 L350 336.28 L351 336.11 L352 335.83 L353 335.61 L354 335.49 L355 335.27 L356 335.03 L357 334.91 L358 334.68 L359 334.37 L360 334.12 L361 333.88 L362 333.75 L363 333.54 L364 333.22 L365 332.95 L366 332.75 L367 332.56 L368 332.28 L369 332.01 L370 331.75 L371 331.47 L372 331.23 L373 330.96 L374 330.64 L375 330.33 L376 330.08 L377 329.76 L378 329.46 L379 329.24 L380 328.99 L381 328.68 L382 328.36 L383 328.09 L384 327.8 L385 327.53 L386 327.3 L387 327.06 L388 326.75 L389 326.47 L390 326.17 L391 325.95 L392 325.74 L393 325.46 L394 325.19 L395 324.92 L396 324.71 L397 324.49 L398 324.18 L399 323.92 L400 323.71 L401 323.4 L402 323.17 L403 322.94 L404 322.66 L405 322.4 L406 322.18 L407 321.96 L408 321.7 L409 321.43 L410 321.18 L411 320.99 L412 320.82 L413 320.57 L414 320.35 L415 320.11 L416 319.79 L417 319.58 L418 319.36 L419 319.12 L420 318.96 L421 318.71 L422 318.44 L423 318.31 L424 318.1 L425 317.8 L426 317.6 L427 317.37 L428 317.13 L429 316.93 L430 316.64 L431 316.47 L432 316.32 L433 316.03 L434 315.89 L435 315.74 L436 315.49 L437 315.31 L438 315.13 L439 314.91 L440 314.71 L441 314.53 L442 314.41 L443 314.27 L444 314.1 L445 313.96 L446 313.8 L447 313.6 L448 313.45 L449 313.41 L450 313.3 L451 313.14 L452 313.03 L453 312.92 L454 312.84 L455 312.73 L456 312.62 L457 312.5 L458 312.38 L459 312.33 L460 312.3 L461 312.24 L462 312.13 L463 311.99 L464 311.93 L465 311.91 L466 311.76 L467 311.69 L468 311.7 L469 311.66 L470 311.53 L471 311.36 L472 311.37 L473 311.29 L474 311.17 L475 311.14 L476 311.07 L477 310.98 L478 310.94 L479 310.98 L480 310.95 L481 310.87 L482 310.78 L483 310.76 L484 310.73 L485 310.67 L486 310.54 L487 310.46 L488 310.42 L489 310.37 L490 310.37 L491 310.27 L492 310.23 L493 310.27 L494 310.24 L495 310.18 L496 310.1 L497 310.03 L498 309.99 L499 310 L500 310.06 L501 310.05 L502 309.99 L503 309.93 L504 309.93 L505 309.95 L506 309.86 L507 309.79 L508 309.84 L509 309.86 L510 309.92 L511 309.94 L512 309.84 L513 309.82 L514 309.9 L515 309.88 L516 309.84 L517 309.88 L518 309.89 L519 309.88 L520 309.8 L521 309.79 L522 309.8 L523 309.8 L524 309.79 L525 309.81 L526 309.8 L527 309.73 L528 309.69 L529 309.66 L530 309.66 L531 309.64 L532 309.64 L533 309.51 L534 309.24 L535 309.01 L536 308.69 L537 308.26 L538 307.96 L539 307.71 L540 307.34 L541 307.1 L542 307.03 L543 306.9 L544 306.7 L545 306.61 L546 306.53 L547 306.43 L548 306.43 L549 306.41 L550 306.41 L551 306.43 L552 306.39 L553 306.39 L554 306.35 L555 306.29 L556 306.35 L557 306.35 L558 306.3 L559 306.26 L560 306.18 L561 306.14 L562 306.09 L563 306.01 L564 305.91 L565 305.84 L566 305.77 L567 305.63 L568 305.49 L569 305.39 L570 305.2 L571 304.97 L572 304.91 L573 304.83 L574 304.59 L575 304.37 L576 304.14 L577 303.88 L578 303.73 L579 303.54 L580 303.38 L581 303.25 L582 303.08 L583 303.02 L584 302.94 L585 302.72 L586 302.55 L587 302.37 L588 302.14 L589 302 L590 301.86 L591 301.57 L592 301.24 L593 300.92 L594 300.5 L595 300.15 L596 299.84 L597 299.44 L598 299.22 L599 299.32 L600 299.43 L601 299.62 L602 299.92 L603 300.19 L604 300.3 L605 299.99 L606 299.46 L607 299.09 L608 298.78 L608.5 298.64" fill="none" stroke="#0072BD" stroke-width="6.2" stroke-linecap="round" stroke-linejoin="round"/><path d="M360 334.16 L361 333.97 L362 333.78 L363 333.58 L364 333.39 L365 333.18 L366 332.97 L367 332.75 L368 332.53 L369 332.3 L370 332.07 L371 331.83 L372 331.59 L373 331.35 L374 331.1 L375 330.86 L376 330.61 L377 330.37 L378 330.12 L379 329.87 L380 329.63 L381 329.39 L382 329.15 L383 328.92 L384 328.69 L385 328.46 L386 328.25 L387 328.03 L388 327.81 L389 327.6 L390 327.38 L391 327.17 L392 326.96 L393 326.74 L394 326.53 L395 326.32 L396 326.11 L397 325.9 L398 325.69 L399 325.49 L400 325.28 L401 325.08 L402 324.88 L403 324.68 L404 324.49 L405 324.3 L406 324.11 L407 323.92 L408 323.74 L409 323.56 L410 323.37 L411 323.19 L412 323.01 L413 322.83 L414 322.64 L415 322.45 L416 322.26 L417 322.07 L418 321.87 L419 321.67 L420 321.47 L421 321.28 L422 321.09 L423 320.89 L424 320.7 L425 320.51 L426 320.33 L427 320.14 L428 319.96 L429 319.77 L430 319.59 L431 319.42 L432 319.24 L433 319.07 L434 318.9 L435 318.73 L436 318.57 L437 318.4 L438 318.24 L439 318.07 L440 317.91 L441 317.74 L442 317.58 L443 317.42 L444 317.26 L445 317.11 L446 316.96 L447 316.82 L448 316.68 L449 316.56 L450 316.44 L451 316.3 L452 316.16 L453 316.01 L454 315.85 L455 315.69 L456 315.53 L457 315.36 L458 315.19 L459 315.03 L460 314.86 L461 314.69 L462 314.49 L463 314.28 L464 314.05 L465 313.81 L466 313.56 L467 313.32 L468 313.07 L469 312.83 L470 312.59 L471 312.37 L472 312.17 L473 311.99 L474 311.83 L475 311.7 L476 311.59 L477 311.47 L478 311.36 L479 311.26 L480 311.15 L481 311.05 L482 310.95 L483 310.86 L484 310.77 L485 310.68 L486 310.6 L487 310.53 L488 310.46 L489 310.4 L490 310.35" fill="none" stroke="#0072BD" stroke-width="6.2" stroke-linecap="round" stroke-linejoin="round"/>
<path d="M108 457.5 L111.2 455.7 L116 456.2 L120.8 456.7 L125.6 456.3 L130.4 457.3 L133.5 457 L136.7 458.6 L139.9 455.7 L142.3 456.2 L144.7 455.4 L147.9 457.8 L151.1 457 L154.3 456.7 L156.7 455.1 L159.1 457 L161.5 456.2 L163.9 457 L167.1 459.4 L170.3 458.9 L174.3 457.8 L178.3 458.3 L180.7 459.4 L182.7 458.3 L183.9 453.5 L185.4 439.3 L187.4 413.6 L190 385.4 L192.6 362.3 L195.1 339.2 L197.7 310.9 L199 300.7 L200.8 297.6 L202.5 299.2 L205.4 302 L208 304.2 L210.5 305.6 L213 306.3 L214.7 306.95 L215.7 306.89 L216.7 306.89 L217.7 306.53 L218.7 306.6 L219.7 306.37 L220.7 306.34 L221.7 306.41 L222.7 306.59 L223.7 306.78 L224.7 306.72 L225.7 306.59 L226.7 306.64 L227.7 306.65 L228.7 306.84 L229.7 306.7 L230.7 306.83 L231.7 306.88 L232.7 307.24 L233.7 307.36 L234.7 307.33 L235.7 307.07 L236.7 306.67 L237.7 306.65 L238.7 306.94 L239.7 307.43 L240.7 307.08 L241.7 306.77 L242.7 306.49 L243.7 306.7 L244.7 306.83 L245.7 306.89 L246.7 306.96 L247.7 306.93 L248.7 306.7 L249.7 306.64 L250.7 306.52 L251.7 306.87 L252.7 306.78 L253.7 306.87 L254.7 306.85 L255.7 307.07 L256.7 307.22 L257.7 307.02 L258.7 307.09 L259.7 307.1 L260.7 307.5 L261.7 307.54 L262.7 307.62 L263.7 307.31 L264.7 307.22 L265.7 307.24 L266.7 307.32 L267.7 307.5 L268.7 307.38 L269.7 307.6 L270.7 307.73 L271.7 307.52 L272.7 307.48 L273.7 307.21 L274.7 307.39 L275.7 307.12 L276.7 307.16 L277.7 306.94 L278.7 306.85 L279.7 306.64 L280.7 306.84 L281.7 307.07 L282.7 307.28 L283.7 307.29 L284.7 307.08 L285.7 306.73 L286.7 306.74 L287.7 306.84 L288.7 307.14 L289.7 307.28 L290.7 307.24 L291.7 307.16 L292.7 306.63 L293.7 306.74 L294.7 306.76 L295.7 306.98 L296.7 306.96 L297.7 306.82 L298.7 306.84 L299.7 307.07 L300.7 307.32 L301.7 307.52 L302.7 307.35 L303.7 307.34 L304.7 307.24 L305.7 307.45 L306.7 307.35 L307.7 307.43 L308.7 307.08 L309.7 307.04 L310.7 306.6 L311.7 306.36 L312.7 306.63 L313.7 307.18 L314.7 307.37 L315.7 307.01 L316.7 306.55 L317.7 306.43 L318.7 307.14 L319.7 307.65 L320.7 308.13 L321.7 306.94 L322.7 306.82 L323.7 306.78 L324.7 307.24 L325.7 306.76 L326.7 306.84 L327.7 306.78 L328.7 307.09 L329.7 307.38 L330.7 307.71 L331.7 307.88 L332.7 307.53 L333.7 307.22 L334 307.17 L334.4 307.21 L334.8 307.14 L335.2 307.14 L335.6 307.13 L336 307 L336.4 307.11 L336.8 307.25 L337.2 306.99 L337.6 307.1 L338 307.18 L338.4 306.96 L338.8 307.08 L339.2 306.93 L339.6 307.04 L340 306.96 L340.4 307.01 L340.8 307.06 L341.2 307.08 L341.6 307.09 L342 306.87 L342.4 307.27 L342.8 307.09 L343.2 307.01 L343.6 307.06 L344 307.15 L344.4 307.03 L344.8 307.09 L345.2 307.08 L345.6 307.19 L346 307.06 L346.4 307.19 L346.8 307.18 L347.2 307.13 L347.6 307.27 L348 307.16 L348.4 307.04 L348.8 307.19 L349.2 307.18 L349.6 307.16 L350 307.2 L350.4 307.41 L350.8 307.2 L351.2 307.23 L351.6 307.16 L352 307.32 L352.4 307.19 L352.8 307.12 L353.2 307.07 L353.6 307.26 L354 307.29 L354.4 307.04 L354.8 307.14 L355.2 307.3 L355.6 307.35 L356 307.07 L356.4 307.18 L356.8 307.34 L357.2 307.17 L357.6 307.19 L358 307.18 L358.4 307.08 L358.8 307.26 L359.2 307.3 L359.6 307.06 L360 307.28 L360.4 307.43 L360.8 307.3 L361.2 307.41 L361.6 307.19 L362 307.49 L362.4 307.16 L362.8 307.58 L363.2 307.21 L363.6 307.17 L364 307.14 L364.4 307.22 L364.8 307.21 L365.2 307.18 L365.6 307.24 L366 307.42 L366.4 307.46 L366.8 307.24 L367.2 307.53 L367.6 307.12 L368 307.11 L368.4 307.09 L368.8 307.42 L369.2 307.01 L369.6 307.04 L370 307.57 L370.4 307.66 L370.8 307.59 L371.2 307.01 L371.6 307.32 L372 307.49 L372.4 307.34 L372.8 306.98 L373.2 307.25 L373.6 306.96 L374 307.06 L374.4 307.81 L374.8 307.48 L375.2 307 L375.6 306.99 L376 307.44 L376.4 307.19 L376.8 307.47 L377.2 307.18 L377.6 307.29 L378 307.4 L378.4 307.09 L378.8 306.87 L379.2 307.05 L379.6 307.17 L380 307.29 L380.4 307.33 L380.8 307.33 L381.2 307.48 L381.6 307.11 L382 307.72 L382.4 307.88 L382.8 307.45 L383.2 307.4 L383.6 307.69 L384 307.53 L384.4 307.41 L384.8 307.31 L385.2 307.15 L385.6 307.03 L386 307.55 L386.4 307.7 L386.8 307.05 L387.2 307.34 L387.6 307.43 L388 307.24 L388.4 307.14 L388.8 307.25 L389.2 306.77 L389.6 307.35 L390 307.28 L390.4 308.03 L390.8 307.66 L391.2 307.26 L391.6 307.37 L392 307.92 L392.4 307.89 L392.8 307.43 L393.2 307.33 L393.6 306.9 L394 307.27 L394.4 307.32 L394.8 307.14 L395.2 307.95 L395.6 306.76 L396 307.34 L396.4 307.52 L396.8 307.53 L397.2 307.94 L397.6 306.92 L398 307.14 L398.4 307.42 L398.8 307.43 L399.2 307.26 L399.6 307.13 L400 307.74 L400.4 307.04 L400.8 307.2 L401.2 307.86 L401.6 307.96 L402 307.68 L402.4 307.11 L402.8 307.11 L403.2 307.09 L403.6 307.02 L404 307.25 L404.4 307.81 L404.8 307.46 L405.2 307.14 L405.6 307.14 L406 307 L406.4 307.79 L406.8 306.73 L407.2 307.48 L407.6 306.92 L408 307.04 L408.4 306.9 L408.8 307.71 L409.2 307.36 L409.6 308.3 L410 307.05 L410.4 307.03 L410.8 307.59 L411.2 307.58 L411.6 307.3 L412 306.72 L412.4 307.87 L412.8 307.58 L413.2 307.52 L413.6 307.19 L414 307.6 L414.4 307.2 L414.8 307.4 L415.2 307.32 L415.6 307.8 L416 307.23 L416.4 307.27 L416.8 307.74 L417.2 307.45 L417.6 307.37 L418 307.3 L418.4 307.69 L418.8 307.16 L419.2 307.53 L419.6 308.04 L420 307.5 L420.4 307.11 L420.8 306.97 L421.2 307.41 L421.6 306.96 L422 306.84 L422.4 307.11 L422.8 307 L423.2 307.65 L423.6 306.88 L424 307.88 L424.4 307.1 L424.8 307.39 L425.2 307.57 L425.6 307.42 L426 307.58 L426.4 307.02 L426.8 306.59 L427.2 307.27 L427.6 306.78 L428 307.14 L428.4 307.64 L428.8 307.27 L429.2 307.13 L429.6 306.95 L430 307.23 L430.4 307.27 L430.8 306.8 L431.2 307.42 L431.6 306.96 L432 307.39 L432.4 307.17 L432.8 307.64 L433.2 307.59 L433.6 307.31 L434 307.27 L434.4 307.45 L434.8 307.76 L435.2 307.66 L435.6 307.36 L436 307.41 L436.4 307.83 L436.8 306.77 L437.2 307.48 L437.6 307.01 L438 307.75 L438.4 307.14 L438.8 307.27 L439.2 306.94 L439.6 307.31 L440 307.57 L440.4 307.86 L440.8 306.89 L441.2 307.16 L441.6 308.59 L442 307.61 L442.4 307.3 L442.8 307.48 L443.2 306.42 L443.6 307.84 L444 307.35 L444.4 306.83 L444.8 307.69 L445.2 307.09 L445.6 306.96 L446 307.47 L446.4 307.43 L446.8 307.15 L447.2 307.28 L447.6 306.86 L448 306.82 L448.4 307.6 L448.8 307.73 L449.2 307.44 L449.6 307.42 L450 307.17 L450.4 307.26 L450.8 306.99 L451.2 307.88 L451.6 307.12 L452 307.44 L452.4 307.31 L452.8 306.84 L453.2 307.95 L453.6 307.19 L454 307.06 L454.4 307.35 L454.8 307.02 L455.2 307.33 L455.6 307.01 L456 307.51 L456.4 307.35 L456.8 306.88 L457.2 307.68 L457.6 307.4 L458 306.98 L458.4 307.46 L458.8 307.49 L459.2 307.97 L459.6 307.07 L460 307.65 L460.4 307.34 L460.8 307.58 L461.2 307.29 L461.6 307.36 L462 307.55 L462.4 307 L462.8 306.7 L463.2 307.4 L463.6 307.26 L464 307.44 L464.4 307.63 L464.8 307.36 L465.2 307.83 L465.6 307.43 L466 307.49 L466.4 307.73 L466.8 307.66 L467.2 307.44 L467.6 307.52 L468 307.23 L468.4 307.29 L468.8 307.53 L469.2 307.77 L469.6 307.37 L470 307.8 L470.4 308.17 L470.8 308.24 L471.2 307.55 L471.6 307.9 L472 307.76 L472.4 307.83 L472.8 307.85 L473.2 307.75 L473.6 307.86 L474 307.66 L474.4 307.52 L474.8 307.7 L475.2 307.78 L475.6 308.04 L476 307.76 L476.4 307.9 L476.8 308.13 L477.2 307.37 L477.6 307.6 L478 307.88 L478.4 307.72 L478.8 307.39 L479.2 308.07 L479.6 307.74 L480 307.45 L480.4 308.42 L480.8 307.39 L481.2 307.83 L481.6 307.63 L482 307.91 L482.4 308.08 L482.8 307.64 L483.2 307.9 L483.6 307.91 L484 307.65 L484.4 308.39 L484.8 308.08 L485.2 307.95 L485.6 307.85 L486 307.98 L486.4 308.16 L486.8 307.99 L487.2 308.58 L487.6 307.35 L488 307.51 L488.4 308.16 L488.8 307.66 L489.2 308.27 L489.6 308.1 L490 308.53 L490.4 308.5 L490.8 308.82 L491.2 308.72 L491.6 308.86 L492 308.64 L492.4 308.85 L492.8 308.68 L493.2 308.35 L493.6 308.15 L494 308.19 L494.4 308.78 L494.8 307.85 L495.2 308.72 L495.6 308.44 L496 308.95 L496.4 308.8 L496.8 308.51 L497.2 308.78 L497.6 308.05 L498 308.91 L498.4 308.99 L498.8 308.25 L499.2 309.16 L499.6 308.86 L500 308.97 L500.4 308.46 L500.8 309.15 L501.2 309.16 L501.6 308.98 L502 308.68 L502.4 309.28 L502.8 309.46 L503.2 309.2 L503.6 309.42 L504 308.91 L504.4 309.18 L504.8 309.27 L505.2 309.22 L505.6 310.12 L506 309.35 L506.4 309.04 L506.8 309.52 L507.2 308.91 L507.6 309.41 L508 309.56 L508.4 309.17 L508.8 309.24 L509.2 309.06 L509.6 309.43 L510 309.18 L510.4 310 L510.8 309.65 L511.2 309.38 L511.6 309.01 L512 310.17 L512.4 309.94 L512.8 309.68 L513.2 309.61 L513.6 309.62 L514 309.42 L514.4 310.21 L514.8 309.67 L515.2 309.14 L515.6 309.41 L516 308.79 L516.4 309.87 L516.8 309.92 L517.2 310.26 L517.6 310.38 L518 309.44 L518.4 309.85 L518.8 310.04 L519.2 309.98 L519.6 309.56 L520 310 L520.4 309.9 L520.8 310.19 L521.2 309.74 L521.6 309.68 L522 309.59 L522.4 309.64 L522.8 309.52 L523.2 309.66 L523.6 309.95 L524 309.94 L524.4 310.23 L524.8 310.16 L525.2 310.01 L525.6 309.42 L526 309.99 L526.4 310.19 L526.8 309.38 L527.2 309.45 L527.6 309.5 L528 309.48 L528.4 309.72 L528.8 309.51 L529.2 309.95 L529.6 309.42 L530 309.78 L530.4 309.65 L530.8 309.47 L531.2 310.09 L531.6 309.71 L532 309.81 L532.4 309.45 L532.8 309.71 L533.2 309.6 L533.6 309.25 L534 308.62 L534.4 309.38 L534.8 309.24 L535.2 308.97 L535.6 308.9 L536 308.76 L536.4 308.7 L536.8 308.22 L537.2 308.46 L537.6 308.52 L538 308.14 L538.4 307.95 L538.8 308.81 L539.2 308.33 L539.6 307.96 L540 307.83 L540.4 307.05 L540.8 307.38 L541.2 307.7 L541.6 308.14 L542 306.97 L542.4 307.36 L542.8 308.15 L543.2 307.68 L543.6 307.53 L544 307.72 L544.4 307.23" fill="none" stroke="#00FF00" stroke-width="1.6" stroke-linejoin="round"/>
<path d="M108 458.5 L111.2 456.7 L116 457.2 L120.8 457.7 L125.6 457.3 L130.4 458.3 L133.5 458 L136.7 459.6 L139.9 456.7 L142.3 457.2 L144.7 456.4 L147.9 458.8 L151.1 458 L154.3 457.7 L156.7 456.1 L159.1 458 L161.5 457.2 L163.9 458 L167.1 460.4 L170.3 459.9 L174.3 458.8 L178.3 459.3 L180.7 460.4 L182.7 459.3 L183.6 455 L184.9 441.9 L186.9 418.8 L188.7 403.4 L191.3 385.4 L193.8 370 L196.4 357.2 L199 346.9 L201 343 L202.3 344.6 L204.1 346.4 L206.5 347.9 L209.2 348.9 L212 349.6 L214.7 350.09 L215.7 350.22 L216.7 350.09 L217.7 350.21 L218.7 349.83 L219.7 349.85 L220.7 350.03 L221.7 350.16 L222.7 350.29 L223.7 349.66 L224.7 349.62 L225.7 349.35 L226.7 349.36 L227.7 349.41 L228.7 349.67 L229.7 349.77 L230.7 349.81 L231.7 349.4 L232.7 349.4 L233.7 349.18 L234.7 349.37 L235.7 349.03 L236.7 348.85 L237.7 348.78 L238.7 348.85 L239.7 348.82 L240.7 348.46 L241.7 348.28 L242.7 348.25 L243.7 348.37 L244.7 348.23 L245.7 348.04 L246.7 347.91 L247.7 347.76 L248.7 347.85 L249.7 347.71 L250.7 347.76 L251.7 347.21 L252.7 346.91 L253.7 346.7 L254.7 346.87 L255.7 346.85 L256.7 346.97 L257.7 346.99 L258.7 347.02 L259.7 346.6 L260.7 346.7 L261.7 346.62 L262.7 346.9 L263.7 346.53 L264.7 346.49 L265.7 346.43 L266.7 346.48 L267.7 346.53 L268.7 346.33 L269.7 346.5 L270.7 346.02 L271.7 345.89 L272.7 345.66 L273.7 345.81 L274.7 345.75 L275.7 345.28 L276.7 345.4 L277.7 345.12 L278.7 345.35 L279.7 345.13 L280.7 345.43 L281.7 345.48 L282.7 345.27 L283.7 344.95 L284.7 344.61 L285.7 344.38 L286.7 344.52 L287.7 344.42 L288.7 344.59 L289.7 344.23 L290.7 344.2 L291.7 344 L292.7 344.05 L293.7 343.8 L294.7 343.94 L295.7 343.77 L296.7 343.47 L297.7 343.32 L298.7 343.27 L299.7 343.41 L300.7 343.57 L301.7 343.51 L302.7 343.35 L303.7 342.81 L304.7 342.77 L305.7 342.82 L306.7 342.98 L307.7 342.97 L308.7 342.78 L309.7 342.5 L310.7 342.33 L311.7 342.28 L312.7 342.09 L313.7 342.01 L314.7 341.99 L315.7 341.6 L316.7 340.94 L317.7 340.64 L318.7 341.15 L319.7 341.73 L320.7 342.29 L321.7 341.48 L322.7 340.81 L323.7 340.36 L324.7 339.88 L325.7 339.62 L326.7 339.58 L327.7 339.73 L328.7 339.74 L329.7 339.72 L330.7 339.84 L331.7 339.83 L332.7 339.58 L333.7 339.38 L334 339.24 L334.4 339.28 L334.8 339.18 L335.2 339.39 L335.6 339.14 L336 339 L336.4 338.98 L336.8 338.93 L337.2 338.74 L337.6 338.74 L338 338.92 L338.4 338.58 L338.8 338.61 L339.2 338.72 L339.6 338.71 L340 338.41 L340.4 338.61 L340.8 338.38 L341.2 338.53 L341.6 338.36 L342 338.23 L342.4 338.28 L342.8 338.22 L343.2 338.03 L343.6 338.27 L344 337.98 L344.4 338.08 L344.8 337.86 L345.2 337.68 L345.6 337.7 L346 337.75 L346.4 337.78 L346.8 337.84 L347.2 337.62 L347.6 337.54 L348 337.4 L348.4 337.46 L348.8 337.45 L349.2 337.15 L349.6 337.45 L350 337.38 L350.4 337.45 L350.8 337.08 L351.2 337.13 L351.6 337.07 L352 336.89 L352.4 336.89 L352.8 336.82 L353.2 336.93 L353.6 336.87 L354 336.92 L354.4 336.67 L354.8 336.51 L355.2 336.67 L355.6 336.61 L356 336.59 L356.4 336.61 L356.8 336.33 L357.2 336.46 L357.6 336.17 L358 336.27 L358.4 336.29 L358.8 336.13 L359.2 336.12 L359.6 335.84 L360 335.88 L360.4 335.94 L360.8 335.69 L361.2 335.68 L361.6 336.12 L362 335.74 L362.4 335.51 L362.8 335.42 L363.2 335.75 L363.6 335.01 L364 335.34 L364.4 335.44 L364.8 335.18 L365.2 335.31 L365.6 334.97 L366 335.09 L366.4 335.04 L366.8 334.97 L367.2 334.93 L367.6 334.84 L368 334.98 L368.4 334.66 L368.8 334.53 L369.2 334.52 L369.6 334.45 L370 334.15 L370.4 334 L370.8 334.04 L371.2 334.31 L371.6 334.04 L372 334.03 L372.4 334.65 L372.8 334.22 L373.2 333.86 L373.6 333.7 L374 334.08 L374.4 333.53 L374.8 333.91 L375.2 333.7 L375.6 333.81 L376 333.26 L376.4 333.57 L376.8 332.86 L377.2 333.18 L377.6 333.41 L378 333.25 L378.4 332.56 L378.8 333.11 L379.2 332.98 L379.6 332.78 L380 332.55 L380.4 332.59 L380.8 332.44 L381.2 332.77 L381.6 332.57 L382 332.66 L382.4 332.5 L382.8 331.9 L383.2 332.21 L383.6 332.69 L384 331.73 L384.4 332.04 L384.8 331.68 L385.2 331.58 L385.6 331.82 L386 331.95 L386.4 331.85 L386.8 331.69 L387.2 331.77 L387.6 330.94 L388 331.59 L388.4 331.4 L388.8 331.16 L389.2 331.14 L389.6 330.82 L390 331.37 L390.4 330.71 L390.8 330.41 L391.2 330.81 L391.6 330.56 L392 330.65 L392.4 331.09 L392.8 330.49 L393.2 330.51 L393.6 331.14 L394 329.87 L394.4 330.39 L394.8 330.58 L395.2 330.63 L395.6 330.81 L396 329.78 L396.4 330.13 L396.8 329.83 L397.2 329.64 L397.6 329.48 L398 329.17 L398.4 329.7 L398.8 329.77 L399.2 329.1 L399.6 329.63 L400 329.13 L400.4 328.91 L400.8 328.31 L401.2 329.47 L401.6 329.27 L402 328.86 L402.4 328.77 L402.8 328.4 L403.2 328.93 L403.6 328.67 L404 328.8 L404.4 328.61 L404.8 328.01 L405.2 327.89 L405.6 328.48 L406 327.71 L406.4 328.29 L406.8 328.43 L407.2 327.63 L407.6 328.21 L408 327.93 L408.4 328.02 L408.8 327.56 L409.2 327.69 L409.6 327.77 L410 328.16 L410.4 327.73 L410.8 327.58 L411.2 326.91 L411.6 327.38 L412 326.96 L412.4 327.09 L412.8 327.13 L413.2 327.29 L413.6 327.09 L414 326.88 L414.4 326.72 L414.8 327.12 L415.2 326.29 L415.6 326.52 L416 326.89 L416.4 326.29 L416.8 326.56 L417.2 326.5 L417.6 326.78 L418 326.42 L418.4 325.42 L418.8 325.89 L419.2 325.9 L419.6 326 L420 325.77 L420.4 326.19 L420.8 325.85 L421.2 325.01 L421.6 325.11 L422 324.55 L422.4 325.73 L422.8 325.03 L423.2 324.94 L423.6 324.38 L424 324.68 L424.4 324.88 L424.8 324.52 L425.2 324.44 L425.6 324.28 L426 325.07 L426.4 324.14 L426.8 323.76 L427.2 323.99 L427.6 323.96 L428 323.96 L428.4 323.83 L428.8 323.45 L429.2 323.68 L429.6 323.79 L430 323.11 L430.4 324.16 L430.8 323.98 L431.2 322.73 L431.6 323.13 L432 323.51 L432.4 323.54 L432.8 323.61 L433.2 322.31 L433.6 322.48 L434 322.6 L434.4 322.88 L434.8 322.25 L435.2 322.68 L435.6 322.61 L436 322.62 L436.4 321.87 L436.8 322.29 L437.2 322.17 L437.6 321.93 L438 322.43 L438.4 321.81 L438.8 322.32 L439.2 321.55 L439.6 322.25 L440 322.15 L440.4 321.24 L440.8 321.55 L441.2 321.47 L441.6 320.95 L442 321.47 L442.4 321.32 L442.8 320.75 L443.2 321 L443.6 321.19 L444 320.76 L444.4 320.49 L444.8 321.21 L445.2 320.25 L445.6 320.62 L446 320.8 L446.4 320.62 L446.8 319.66 L447.2 320.09 L447.6 320.08 L448 319.98 L448.4 320.19 L448.8 320.09 L449.2 319.88 L449.6 319.85 L450 320.03 L450.4 320.04 L450.8 318.92 L451.2 320.21 L451.6 319.22 L452 319.6 L452.4 318.72 L452.8 319.02 L453.2 318.69 L453.6 319.41 L454 319.27 L454.4 318.9 L454.8 318.77 L455.2 318.88 L455.6 318.36 L456 318.4 L456.4 318.27 L456.8 318.73 L457.2 318.39 L457.6 317.88 L458 318.35 L458.4 318.34 L458.8 318.56 L459.2 317.83 L459.6 318.08 L460 318.57 L460.4 317.7 L460.8 317.61 L461.2 317.83 L461.6 317.43 L462 317.52 L462.4 317.28 L462.8 317.12 L463.2 317.61 L463.6 317.12 L464 316.84 L464.4 317.02 L464.8 317 L465.2 317.08 L465.6 317.23 L466 317.44 L466.4 316.37 L466.8 316.64 L467.2 316.05 L467.6 316.67 L468 316.7 L468.4 316.25 L468.8 316.1 L469.2 316.02 L469.6 315.79 L470 316.44 L470.4 316.81 L470.8 315.73 L471.2 316.61 L471.6 315.97 L472 315.48 L472.4 316.08 L472.8 316.1 L473.2 315.93 L473.6 315.66 L474 316.25 L474.4 315.55 L474.8 315.81 L475.2 315.77 L475.6 315.21 L476 314.84 L476.4 314.84 L476.8 315.24 L477.2 315.45 L477.6 314.69 L478 314.99 L478.4 315.7 L478.8 314.54 L479.2 315.26 L479.6 315.17 L480 315.28 L480.4 314.47 L480.8 315.04 L481.2 314.41 L481.6 315.28 L482 314.5 L482.4 314.88 L482.8 314.44 L483.2 314.71 L483.6 314.11 L484 314.68 L484.4 314.74 L484.8 314.5 L485.2 315 L485.6 314.54 L486 314.64 L486.4 314.51 L486.8 314.93 L487.2 314.05 L487.6 314.14 L488 314.12 L488.4 314.36 L488.8 314.21 L489.2 314.36 L489.6 314.15 L490 313.84 L490.4 313.96 L490.8 314.1 L491.2 313.15 L491.6 314.35 L492 313.67 L492.4 313.71 L492.8 313.89 L493.2 313.69 L493.6 313.25 L494 313.64 L494.4 314.15 L494.8 314.01 L495.2 314.05 L495.6 313.43 L496 313.52 L496.4 313.92 L496.8 314.05 L497.2 313.54 L497.6 313.18 L498 312.84 L498.4 313.95 L498.8 312.94 L499.2 313.58 L499.6 313.72 L500 314.51 L500.4 313.46 L500.8 313.35 L501.2 313.53 L501.6 313.53 L502 313.8 L502.4 313.57 L502.8 313.07 L503.2 312.6 L503.6 313.4 L504 313.06 L504.4 313.76 L504.8 312.82 L505.2 313.32 L505.6 313 L506 312.93 L506.4 313.79 L506.8 313.27 L507.2 313.14 L507.6 313.44 L508 312.91 L508.4 313.04 L508.8 312.94 L509.2 313.82 L509.6 313.25 L510 313.34 L510.4 313.5 L510.8 313.05 L511.2 313.05 L511.6 312.54 L512 313.25 L512.4 313.17 L512.8 312.93 L513.2 313.47 L513.6 312.45 L514 313.19 L514.4 312.57 L514.8 312.65 L515.2 312.96 L515.6 313.48 L516 312.62 L516.4 312.68 L516.8 312.6 L517.2 313.7 L517.6 313.19 L518 313.14 L518.4 313.71 L518.8 313.09 L519.2 312.28 L519.6 312.83 L520 312.59 L520.4 313.69 L520.8 312.52 L521.2 313.12 L521.6 312.85 L522 312.89 L522.4 313.06 L522.8 313.03 L523.2 312.86 L523.6 312.69 L524 312.92 L524.4 312.8 L524.8 312.87 L525.2 313.25 L525.6 313.18 L526 313.42 L526.4 313.2 L526.8 313.96 L527.2 313.07 L527.6 313 L528 313.71 L528.4 313.13 L528.8 313.42 L529.2 313.72 L529.6 313.36 L530 313.27 L530.4 313.72 L530.8 313.49 L531.2 313.17 L531.6 312.91 L532 313.15 L532.4 312.67 L532.8 312.88 L533.2 312.75 L533.6 313.16 L534 313.26 L534.4 312.67 L534.8 312.59 L535.2 312.17 L535.6 311.86 L536 311.96 L536.4 312.08 L536.8 311.84 L537.2 311.71 L537.6 311.24 L538 310.21 L538.4 311.3 L538.8 311.26 L539.2 310.97 L539.6 310.82 L540 310.77 L540.4 311.21 L540.8 310.29 L541.2 310.62 L541.6 310.26 L542 310.13 L542.4 309.77 L542.8 309.63 L543.2 309.3 L543.6 309.83" fill="none" stroke="#FF00FF" stroke-width="1.6" stroke-linejoin="round"/>
<rect x="173.2" y="281.6" width="41.5" height="188.4" fill="#808080" fill-opacity="0.29"/>
<path d="M214.5 470V281.6" stroke="#303030" stroke-width="1.0" stroke-dasharray="11 6" stroke-dashoffset="0" fill="none"/><path d="M367.1 470V281.6" stroke="#303030" stroke-width="1.5" stroke-dasharray="11 6" stroke-dashoffset="0" fill="none"/><path d="M449 470V281.6" stroke="#303030" stroke-width="1.5" stroke-dasharray="11 6" stroke-dashoffset="0" fill="none"/><path d="M540 470V281.6" stroke="#303030" stroke-width="1.5" stroke-dasharray="11 6" stroke-dashoffset="0" fill="none"/>
<rect x="77.17" y="281.6" width="538.93" height="188.4" fill="none" stroke="#505050" stroke-width="1.25"/><path d="M77.17 295.3h6M616.1 295.3h-6M77.17 322.4h3.2M616.1 322.4h-3.2M77.17 360.6h3.2M616.1 360.6h-3.2M77.17 425.9h6M616.1 425.9h-6M77.17 435.83h3.2M616.1 435.83h-3.2M77.17 446.92h3.2M616.1 446.92h-3.2M77.17 459.5h3.2M616.1 459.5h-3.2M168.6 470v-6.0M168.6 281.6v6.0M180.12 470v-6.0M180.12 281.6v6.0M191.65 470v-6.0M191.65 281.6v6.0M203.17 470v-6.0M203.17 281.6v6.0M214.6 470v-6.0M214.6 281.6v6.0M237.42 470v-4.5M237.42 281.6v4.5M252.98 470v-4.5M252.98 281.6v4.5M264.02 470v-4.5M264.02 281.6v4.5M272.59 470v-4.5M272.59 281.6v4.5M279.59 470v-4.5M279.59 281.6v4.5M285.5 470v-4.5M285.5 281.6v4.5M290.63 470v-4.5M290.63 281.6v4.5M295.15 470v-4.5M295.15 281.6v4.5M299.19 470v-8.4M299.19 281.6v8.4M325.79 470v-4.5M325.79 281.6v4.5M341.35 470v-4.5M341.35 281.6v4.5M352.39 470v-4.5M352.39 281.6v4.5M360.96 470v-4.5M360.96 281.6v4.5M367.96 470v-4.5M367.96 281.6v4.5M373.87 470v-4.5M373.87 281.6v4.5M379 470v-4.5M379 281.6v4.5M383.52 470v-4.5M383.52 281.6v4.5M387.56 470v-8.4M387.56 281.6v8.4M414.16 470v-4.5M414.16 281.6v4.5M429.72 470v-4.5M429.72 281.6v4.5M440.76 470v-4.5M440.76 281.6v4.5M449.33 470v-4.5M449.33 281.6v4.5M456.33 470v-4.5M456.33 281.6v4.5M462.24 470v-4.5M462.24 281.6v4.5M467.37 470v-4.5M467.37 281.6v4.5M471.89 470v-4.5M471.89 281.6v4.5M475.93 470v-8.4M475.93 281.6v8.4M502.53 470v-4.5M502.53 281.6v4.5M518.09 470v-4.5M518.09 281.6v4.5M529.13 470v-4.5M529.13 281.6v4.5M537.7 470v-4.5M537.7 281.6v4.5M544.7 470v-4.5M544.7 281.6v4.5M550.61 470v-4.5M550.61 281.6v4.5M555.74 470v-4.5M555.74 281.6v4.5M560.26 470v-4.5M560.26 281.6v4.5M564.3 470v-8.4M564.3 281.6v8.4M590.9 470v-4.5M590.9 281.6v4.5M606.46 470v-4.5M606.46 281.6v4.5" stroke="#505050" stroke-width="1.15" fill="none"/>
<g fill="#333333"><text transform="translate(75.97 270.4) scale(0.97 1)" font-size="25.5" font-style="italic" letter-spacing="-0.4">b.</text><text x="70.72" y="300.3" font-size="22" text-anchor="end" letter-spacing="-0.25">0.04</text><text x="70.72" y="430.9" font-size="22" text-anchor="end" letter-spacing="-0.25">0.01</text><text x="169" y="494.2" font-size="22" text-anchor="middle" letter-spacing="0.6">-2</text><text x="214.7" y="494.2" font-size="22" text-anchor="middle">0</text><text x="278.39" y="494.2" font-size="22" letter-spacing="-1">10</text><path d="M300.79 483.3h9" stroke="#333333" stroke-width="0.9"/><text x="311.09" y="487.5" font-size="14.5">3</text><text x="366.76" y="494.2" font-size="22" letter-spacing="-1">10</text><path d="M389.16 483.3h9" stroke="#333333" stroke-width="0.9"/><text x="399.46" y="487.5" font-size="14.5">2</text><text x="455.13" y="494.2" font-size="22" letter-spacing="-1">10</text><path d="M477.53 483.3h9" stroke="#333333" stroke-width="0.9"/><text x="487.83" y="487.5" font-size="14.5">1</text><text x="549.3" y="494.2" font-size="22" letter-spacing="-1">10</text><text x="571.5" y="487.5" font-size="14.5">0</text><text x="393.6" y="520.9" font-size="24" font-style="italic">t</text><text transform="translate(402.3 513.6) scale(1.08 1)" font-size="14.5" letter-spacing="0.1">NaCl</text></g>
<g fill="#0072BD"><circle cx="118" cy="719.2" r="3.1"/><circle cx="153.1" cy="719.2" r="3.1"/><circle cx="173.6" cy="717.1" r="3.1"/><circle cx="188" cy="663.7" r="3.1"/><circle cx="199.7" cy="575.7" r="3.1"/><circle cx="208.9" cy="574.4" r="3.1"/><circle cx="217.03" cy="573.89" r="3.1"/><circle cx="224.45" cy="573.49" r="3.1"/><circle cx="230.67" cy="573.16" r="3.1"/><circle cx="236.01" cy="572.88" r="3.1"/><circle cx="240.7" cy="572.64" r="3.1"/><circle cx="244.88" cy="572.42" r="3.1"/><circle cx="248.64" cy="572.23" r="3.1"/><circle cx="252.07" cy="572.06" r="3.1"/><circle cx="255.21" cy="571.9" r="3.1"/><circle cx="258.12" cy="571.75" r="3.1"/><circle cx="260.82" cy="571.61" r="3.1"/><circle cx="263.34" cy="571.48" r="3.1"/><circle cx="265.71" cy="571.36" r="3.1"/><circle cx="267.94" cy="571.24" r="3.1"/><circle cx="270.04" cy="571.14" r="3.1"/><circle cx="272.04" cy="571.03" r="3.1"/><circle cx="273.93" cy="570.94" r="3.1"/><circle cx="275.74" cy="570.84" r="3.1"/><circle cx="277.47" cy="570.75" r="3.1"/><circle cx="279.12" cy="570.66" r="3.1"/><circle cx="280.7" cy="570.57" r="3.1"/><circle cx="282.22" cy="570.48" r="3.1"/><circle cx="283.68" cy="570.39" r="3.1"/><circle cx="285.09" cy="570.3" r="3.1"/><circle cx="286.45" cy="570.22" r="3.1"/><circle cx="287.76" cy="570.13" r="3.1"/><circle cx="289.03" cy="570.04" r="3.1"/><circle cx="290.26" cy="569.96" r="3.1"/><circle cx="291.45" cy="569.87" r="3.1"/><circle cx="292.6" cy="569.79" r="3.1"/><circle cx="293.72" cy="569.71" r="3.1"/><circle cx="294.81" cy="569.63" r="3.1"/><circle cx="295.86" cy="569.54" r="3.1"/><circle cx="296.89" cy="569.46" r="3.1"/><circle cx="297.89" cy="569.38" r="3.1"/><circle cx="298.87" cy="569.3" r="3.1"/><circle cx="299.82" cy="569.23" r="3.1"/></g><path d="M299 569.28 L300 569.16 L301 569.06 L302 568.97 L303 568.97 L304 568.92 L305 568.77 L306 568.65 L307 568.52 L308 568.51 L309 568.44 L310 568.31 L311 568.29 L312 568.26 L313 568.12 L314 567.96 L315 567.84 L316 567.71 L317 567.67 L318 567.52 L319 567.34 L320 567.2 L321 567.04 L322 567.01 L323 566.96 L324 566.83 L325 566.68 L326 566.52 L327 566.38 L328 566.27 L329 566.19 L330 566.13 L331 565.97 L332 565.75 L333 565.56 L334 565.45 L335 565.33 L336 565.1 L337 565.01 L338 564.92 L339 564.7 L340 564.5 L341 564.31 L342 564.2 L343 564.01 L344 563.8 L345 563.66 L346 563.53 L347 563.33 L348 563.06 L349 562.82 L350 562.64 L351 562.48 L352 562.22 L353 561.98 L354 561.77 L355 561.47 L356 561.21 L357 561.07 L358 560.93 L359 560.7 L360 560.41 L361 560.13 L362 559.92 L363 559.72 L364 559.41 L365 559.18 L366 558.96 L367 558.7 L368 558.48 L369 558.21 L370 557.95 L371 557.67 L372 557.31 L373 556.96 L374 556.75 L375 556.52 L376 556.14 L377 555.77 L378 555.58 L379 555.46 L380 555.19 L381 554.83 L382 554.56 L383 554.22 L384 553.93 L385 553.83 L386 553.68 L387 553.35 L388 553.15 L389 553.03 L390 552.81 L391 552.57 L392 552.33 L393 552.09 L394 551.9 L395 551.77 L396 551.53 L397 551.32 L398 551.14 L399 550.98 L400 550.85 L401 550.54 L402 550.35 L403 550.3 L404 550.09 L405 549.88 L406 549.73 L407 549.54 L408 549.39 L409 549.34 L410 549.21 L411 549.07 L412 548.95 L413 548.8 L414 548.64 L415 548.48 L416 548.42 L417 548.31 L418 548.11 L419 547.9 L420 547.72 L421 547.63 L422 547.55 L423 547.36 L424 547.23 L425 547.19 L426 547.09 L427 546.95 L428 546.92 L429 546.87 L430 546.64 L431 546.5 L432 546.5 L433 546.47 L434 546.37 L435 546.29 L436 546.22 L437 546.16 L438 546.09 L439 546.08 L440 545.97 L441 545.88 L442 545.99 L443 545.95 L444 545.82 L445 545.89 L446 545.95 L447 545.85 L448 545.78 L449 545.77 L450 545.78 L451 545.78 L452 545.77 L453 545.81 L454 545.83 L455 545.76 L456 545.75 L457 545.83 L458 545.86 L459 545.8 L460 545.91 L461 546.04 L462 546 L463 545.99 L464 546.06 L465 546.17 L466 546.18 L467 546.2 L468 546.26 L469 546.33 L470 546.38 L471 546.37 L472 546.49 L473 546.63 L474 546.74 L475 546.8 L476 546.91 L477 547.03 L478 547.14 L479 547.23 L480 547.35 L481 547.48 L482 547.56 L483 547.74 L484 547.81 L485 547.88 L486 548.16 L487 548.29 L488 548.36 L489 548.59 L490 548.82 L491 548.94 L492 549.05 L493 549.19 L494 549.33 L495 549.57 L496 549.75 L497 549.87 L498 550.03 L499 550.18 L500 550.32 L501 550.45 L502 550.55 L503 550.74 L504 550.89 L505 551.06 L506 551.34 L507 551.53 L508 551.7 L509 551.76 L510 551.85 L511 552.02 L512 552.14 L513 552.25 L514 552.38 L515 552.61 L516 552.82 L517 552.95 L518 553.08 L519 553.17 L520 553.2 L521 553.25 L522 553.39 L523 553.51 L524 553.54 L525 553.55 L526 553.61 L527 553.75 L528 553.85 L529 553.84 L530 553.85 L531 553.93 L532 553.95 L533 553.99 L534 554.08 L535 554.12 L536 554.19 L537 554.28 L538 554.43 L539 554.46 L540 554.43 L541 554.45 L542 554.41 L543 554.53 L544 554.72 L545 554.69 L546 554.67 L547 554.79 L548 554.84 L549 554.76 L550 554.85 L551 554.98 L552 555.02 L553 555.04 L554 555.09 L555 555.21 L556 555.2 L557 555.21 L558 555.25 L559 555.24 L560 555.25 L561 555.27 L562 555.29 L563 555.36 L564 555.39 L565 555.32 L566 555.39 L567 555.46 L568 555.45 L569 555.43 L570 555.42 L571 555.42 L572 555.33 L573 555.31 L574 555.31 L575 555.26 L576 555.24 L577 555.11 L578 555.04 L579 555.03 L580 554.96 L581 554.97 L582 554.95 L583 554.87 L584 554.86 L585 554.85 L586 554.82 L587 554.83 L588 554.74 L589 554.61 L590 554.57 L591 554.56 L592 554.45 L593 554.25 L594 554.04 L595 553.92 L596 553.84 L597 553.82 L598 553.83 L599 553.87 L600 553.94 L601 554.06 L602 554.21 L603 554.34 L604 554.41 L605 554.27 L606 554.06 L607 553.89 L608 553.76 L608.7 553.63" fill="none" stroke="#0072BD" stroke-width="6.2" stroke-linecap="round" stroke-linejoin="round"/>
<g fill="#D95319"><circle cx="141.4" cy="717.4" r="3.1"/><circle cx="166.2" cy="716.9" r="3.1"/><circle cx="182.2" cy="710.9" r="3.1"/><circle cx="195.3" cy="576.5" r="3.1"/><circle cx="205.5" cy="551.6" r="3.1"/><circle cx="213.6" cy="550.4" r="3.1"/><circle cx="220.8" cy="550.4" r="3.1"/><circle cx="227.59" cy="550.4" r="3.1"/><circle cx="233.35" cy="550.4" r="3.1"/><circle cx="238.35" cy="550.4" r="3.1"/><circle cx="242.78" cy="550.4" r="3.1"/><circle cx="246.74" cy="550.4" r="3.1"/><circle cx="250.34" cy="550.4" r="3.1"/><circle cx="253.62" cy="550.4" r="3.1"/><circle cx="256.65" cy="550.4" r="3.1"/><circle cx="259.45" cy="550.4" r="3.1"/><circle cx="262.06" cy="550.4" r="3.1"/><circle cx="264.51" cy="550.39" r="3.1"/><circle cx="266.8" cy="550.38" r="3.1"/><circle cx="268.97" cy="550.36" r="3.1"/><circle cx="271.02" cy="550.34" r="3.1"/><circle cx="272.97" cy="550.32" r="3.1"/><circle cx="274.82" cy="550.3" r="3.1"/><circle cx="276.59" cy="550.27" r="3.1"/><circle cx="278.28" cy="550.25" r="3.1"/><circle cx="279.89" cy="550.22" r="3.1"/><circle cx="281.44" cy="550.2" r="3.1"/><circle cx="282.94" cy="550.17" r="3.1"/><circle cx="284.37" cy="550.15" r="3.1"/><circle cx="285.75" cy="550.12" r="3.1"/><circle cx="287.09" cy="550.1" r="3.1"/><circle cx="288.38" cy="550.08" r="3.1"/><circle cx="289.63" cy="550.06" r="3.1"/><circle cx="290.84" cy="550.04" r="3.1"/><circle cx="292.01" cy="550.02" r="3.1"/><circle cx="293.14" cy="550" r="3.1"/><circle cx="294.25" cy="549.98" r="3.1"/><circle cx="295.32" cy="549.97" r="3.1"/><circle cx="296.36" cy="549.95" r="3.1"/><circle cx="297.38" cy="549.94" r="3.1"/><circle cx="298.37" cy="549.92" r="3.1"/><circle cx="299.34" cy="549.91" r="3.1"/></g><path d="M299 549.93 L300 549.98 L301 549.96 L302 549.88 L303 549.85 L304 549.83 L305 549.83 L306 549.89 L307 549.89 L308 549.82 L309 549.77 L310 549.72 L311 549.82 L312 549.83 L313 549.74 L314 549.72 L315 549.72 L316 549.71 L317 549.69 L318 549.75 L319 549.7 L320 549.66 L321 549.67 L322 549.67 L323 549.63 L324 549.61 L325 549.59 L326 549.5 L327 549.47 L328 549.49 L329 549.48 L330 549.49 L331 549.56 L332 549.51 L333 549.48 L334 549.51 L335 549.45 L336 549.4 L337 549.43 L338 549.46 L339 549.42 L340 549.38 L341 549.38 L342 549.32 L343 549.31 L344 549.35 L345 549.39 L346 549.31 L347 549.2 L348 549.23 L349 549.22 L350 549.18 L351 549.18 L352 549.17 L353 549.14 L354 549.15 L355 549.07 L356 549.06 L357 549.01 L358 549.03 L359 549.13 L360 549.02 L361 549.01 L362 549 L363 548.96 L364 548.98 L365 548.96 L366 548.91 L367 548.9 L368 548.88 L369 548.83 L370 548.78 L371 548.71 L372 548.78 L373 548.85 L374 548.73 L375 548.69 L376 548.73 L377 548.62 L378 548.56 L379 548.61 L380 548.68 L381 548.7 L382 548.67 L383 548.62 L384 548.59 L385 548.52 L386 548.48 L387 548.53 L388 548.44 L389 548.41 L390 548.49 L391 548.53 L392 548.51 L393 548.4 L394 548.33 L395 548.32 L396 548.35 L397 548.33 L398 548.23 L399 548.19 L400 548.22 L401 548.28 L402 548.24 L403 548.19 L404 548.2 L405 548.27 L406 548.22 L407 548.16 L408 548.21 L409 548.23 L410 548.26 L411 548.28 L412 548.24 L413 548.27 L414 548.31 L415 548.28 L416 548.26 L417 548.23 L418 548.24 L419 548.27 L420 548.25 L421 548.29 L422 548.29 L423 548.29 L424 548.36 L425 548.42 L426 548.45 L427 548.48 L428 548.57 L429 548.6 L430 548.52 L431 548.45 L432 548.47 L433 548.52 L434 548.49 L435 548.47 L436 548.48 L437 548.52 L438 548.62 L439 548.69 L440 548.59 L441 548.49 L442 548.46 L443 548.39 L444 548.42 L445 548.45 L446 548.41 L447 548.42 L448 548.41 L449 548.42 L450 548.42 L451 548.41 L452 548.42 L453 548.39 L454 548.42 L455 548.37 L456 548.32 L457 548.37 L458 548.38 L459 548.39 L460 548.37 L461 548.32 L462 548.34 L463 548.4 L464 548.38 L465 548.41 L466 548.46 L467 548.45 L468 548.45 L469 548.39 L470 548.44 L471 548.44 L472 548.38 L473 548.43 L474 548.43 L475 548.42 L476 548.38 L477 548.37 L478 548.42 L479 548.5 L480 548.5 L481 548.52 L482 548.59 L483 548.61 L484 548.62 L485 548.66 L486 548.67 L487 548.73 L488 548.86 L489 548.89 L490 548.95 L491 549.04 L492 549.05 L493 549.12 L494 549.17 L495 549.27 L496 549.3 L497 549.23 L498 549.28 L499 549.35 L500 549.44 L501 549.46 L502 549.43 L503 549.51 L504 549.58 L505 549.53 L506 549.51 L507 549.49 L508 549.51 L509 549.65 L510 549.62 L511 549.53 L512 549.59 L513 549.57 L514 549.63 L515 549.67 L516 549.61 L517 549.66 L518 549.74 L519 549.76 L520 549.65 L521 549.57 L522 549.64 L523 549.61 L524 549.58 L525 549.6 L526 549.61 L527 549.65 L528 549.51 L529 549.44 L530 549.52 L531 549.44 L532 549.35 L533 549.27 L534 549.17 L535 549.1 L536 549.02 L537 548.92 L538 548.75 L539 548.59 L540 548.6 L541 548.57 L542 548.57 L543 548.82 L544 549.1 L545 549.22 L546 549.31 L547 549.45 L548 549.56 L549 549.69 L550 549.75 L551 549.85 L552 549.96 L553 550.04 L554 550.11 L555 550.12 L556 550.21 L557 550.35 L558 550.38 L559 550.46 L560 550.56 L561 550.56 L562 550.62 L563 550.68 L564 550.71 L565 550.82 L566 550.94 L567 550.94 L568 550.94 L569 550.98 L570 551.02 L571 551.06 L572 550.96 L573 550.85 L574 550.78 L575 550.69 L576 550.62 L577 550.45 L578 550.21 L579 550.12 L580 550.04 L581 550.01 L582 549.96 L583 549.8 L584 549.75 L585 549.68 L586 549.56 L587 549.45 L588 549.39 L589 549.26 L590 549.15 L591 549 L592 548.63 L593 548.4 L594 548.18 L595 547.95 L596 547.88 L597 547.71 L598 547.5 L599 547.5 L600 547.7 L601 547.95 L602 548.15 L603 548.39 L604 548.55 L605 548.26 L606 547.77 L607 547.52 L608 547.24 L608.7 547.01" fill="none" stroke="#D95319" stroke-width="6.2" stroke-linecap="round" stroke-linejoin="round"/>
<path d="M108 716.9 L111.2 715.1 L116 715.6 L120.8 716.1 L125.6 715.7 L130.4 716.7 L133.5 716.4 L136.7 718 L139.9 715.1 L142.3 715.6 L144.7 714.8 L147.9 717.2 L151.1 716.4 L154.3 716.1 L156.7 714.5 L159.1 716.4 L161.5 715.6 L163.9 716.4 L167.1 718.8 L170.3 718.3 L174.3 717.2 L178.3 717.7 L180.7 718.8 L182.7 717.7 L181.5 718 L182.7 712.7 L185.3 689.1 L188 657.7 L190.6 623.7 L193.2 592.2 L195.8 566 L198.4 547.7 L199.8 543.8 L201.1 542.5 L202.3 543.8 L203.7 545.6 L205.5 547 L207.6 548.2 L210 549.4 L212.8 550.3 L214.7 551.07 L215.7 550.92 L216.7 550.69 L217.7 550.41 L218.7 550.69 L219.7 550.75 L220.7 551.14 L221.7 551.19 L222.7 551.34 L223.7 551.19 L224.7 551.18 L225.7 551.28 L226.7 551.27 L227.7 551.25 L228.7 551.26 L229.7 551.26 L230.7 551.38 L231.7 551.26 L232.7 551.18 L233.7 551.08 L234.7 551.34 L235.7 551.66 L236.7 551.42 L237.7 551.23 L238.7 550.96 L239.7 551.13 L240.7 551.04 L241.7 551.08 L242.7 551.05 L243.7 551.06 L244.7 551.12 L245.7 551.03 L246.7 550.89 L247.7 550.7 L248.7 550.71 L249.7 550.97 L250.7 550.97 L251.7 551.12 L252.7 551.04 L253.7 551.3 L254.7 551.31 L255.7 551.45 L256.7 551.34 L257.7 551.37 L258.7 551.33 L259.7 551.14 L260.7 551.16 L261.7 551.26 L262.7 551.48 L263.7 551.39 L264.7 551.44 L265.7 551.44 L266.7 551.64 L267.7 551.04 L268.7 551.04 L269.7 550.79 L270.7 551.17 L271.7 551.32 L272.7 551.36 L273.7 551.27 L274.7 550.71 L275.7 550.83 L276.7 551.04 L277.7 551.45 L278.7 551.27 L279.7 551.13 L280.7 551.25 L281.7 551.4 L282.7 551.63 L283.7 551.4 L284.7 551.11 L285.7 550.88 L286.7 551.13 L287.7 551.25 L288.7 551.18 L289.7 550.9 L290.7 550.78 L291.7 550.67 L292.7 550.47 L293.7 550.67 L294.7 550.84 L295.7 551.25 L296.7 551.09 L297.7 550.93 L298.7 550.56 L299.7 550.47 L300.7 550.68 L301.7 551.31 L302.7 551.36 L303.7 551.18 L304.7 550.91 L305.7 550.96 L306.7 551.09 L307.7 550.91 L308.7 550.96 L309.7 551.01 L310.7 551.01 L311.7 550.87 L312.7 550.86 L313.7 550.89 L314.7 550.97 L315.7 550.59 L316.7 550.33 L317.7 550.26 L318.7 550.84 L319.7 551.64 L320.7 552.16 L321.7 551.74 L322.7 550.92 L323.7 550.86 L324.7 550.62 L325.7 550.95 L326.7 550.9 L327.7 551.11 L328.7 550.95 L329.7 550.85 L330.7 550.61 L331.7 550.53 L332.7 550.79 L333.7 550.91 L334 550.83 L334.4 550.91 L334.8 550.99 L335.2 551.03 L335.6 550.99 L336 551.05 L336.4 550.79 L336.8 550.85 L337.2 550.93 L337.6 551.01 L338 550.95 L338.4 550.82 L338.8 550.88 L339.2 550.74 L339.6 550.98 L340 550.72 L340.4 550.92 L340.8 551.01 L341.2 550.99 L341.6 550.74 L342 550.92 L342.4 550.87 L342.8 550.88 L343.2 551.07 L343.6 550.94 L344 550.77 L344.4 550.81 L344.8 550.99 L345.2 550.94 L345.6 550.81 L346 550.76 L346.4 550.87 L346.8 550.89 L347.2 551.02 L347.6 550.88 L348 551.01 L348.4 551.07 L348.8 550.79 L349.2 550.9 L349.6 551.11 L350 550.92 L350.4 550.97 L350.8 551.07 L351.2 550.9 L351.6 550.94 L352 550.83 L352.4 551.05 L352.8 550.95 L353.2 550.97 L353.6 550.73 L354 551.12 L354.4 551.1 L354.8 550.94 L355.2 551.18 L355.6 550.75 L356 551.04 L356.4 550.84 L356.8 551.4 L357.2 550.73 L357.6 550.91 L358 550.97 L358.4 551.19 L358.8 551.2 L359.2 551.14 L359.6 551.06 L360 551.41 L360.4 551 L360.8 551.16 L361.2 551.38 L361.6 550.94 L362 551.01 L362.4 551.31 L362.8 551.22 L363.2 550.94 L363.6 551.16 L364 551.48 L364.4 551.12 L364.8 551.31 L365.2 551.2 L365.6 551.06 L366 551.47 L366.4 551.37 L366.8 551.41 L367.2 551.18 L367.6 551.23 L368 551.26 L368.4 551.31 L368.8 551.16 L369.2 551.14 L369.6 551.5 L370 551.03 L370.4 551.17 L370.8 551.19 L371.2 551.17 L371.6 551.03 L372 551.13 L372.4 551.47 L372.8 551.23 L373.2 551.15 L373.6 551.69 L374 551.04 L374.4 551.57 L374.8 551.43 L375.2 551.05 L375.6 551.27 L376 551.28 L376.4 551.68 L376.8 551.6 L377.2 551.33 L377.6 551.12 L378 551 L378.4 551.37 L378.8 551.07 L379.2 551.38 L379.6 551.38 L380 551.53 L380.4 551.7 L380.8 551.48 L381.2 551.58 L381.6 551.41 L382 551.74 L382.4 551.68 L382.8 551.9 L383.2 551.84 L383.6 551.27 L384 551.07 L384.4 551.65 L384.8 551.8 L385.2 551.28 L385.6 551.9 L386 551.5 L386.4 551.45 L386.8 551.58 L387.2 551.06 L387.6 550.98 L388 551.37 L388.4 551.12 L388.8 551.46 L389.2 551.47 L389.6 550.68 L390 551.22 L390.4 551.63 L390.8 550.73 L391.2 551.36 L391.6 551.03 L392 550.83 L392.4 551.82 L392.8 551.81 L393.2 551.32 L393.6 551.29 L394 551.92 L394.4 551.85 L394.8 551.45 L395.2 551.74 L395.6 551.49 L396 551.35 L396.4 551.66 L396.8 551.31 L397.2 551.65 L397.6 551.37 L398 551.3 L398.4 551.27 L398.8 551.6 L399.2 551.76 L399.6 551.6 L400 551.17 L400.4 551.66 L400.8 551.16 L401.2 551.08 L401.6 551.39 L402 551.72 L402.4 551.68 L402.8 551.64 L403.2 551.91 L403.6 551.74 L404 551.34 L404.4 551.72 L404.8 551.37 L405.2 551.59 L405.6 551.66 L406 551.44 L406.4 550.97 L406.8 551.42 L407.2 551.36 L407.6 551.43 L408 551.33 L408.4 551.1 L408.8 550.94 L409.2 551.69 L409.6 551.73 L410 551.6 L410.4 551.46 L410.8 552.12 L411.2 551.69 L411.6 551.48 L412 551.75 L412.4 551.45 L412.8 551.7 L413.2 551.56 L413.6 551.65 L414 551.49 L414.4 551.32 L414.8 551.63 L415.2 551.83 L415.6 551.16 L416 551.28 L416.4 551.09 L416.8 551.73 L417.2 551.37 L417.6 551.73 L418 551.17 L418.4 551.69 L418.8 551.23 L419.2 551.26 L419.6 551.58 L420 551.27 L420.4 551.2 L420.8 551.68 L421.2 551.36 L421.6 551.78 L422 552.2 L422.4 551.18 L422.8 551.24 L423.2 550.85 L423.6 550.95 L424 551.53 L424.4 551.43 L424.8 551.41 L425.2 551.46 L425.6 551.03 L426 550.75 L426.4 551.65 L426.8 551.37 L427.2 551.65 L427.6 551.26 L428 551.52 L428.4 551.09 L428.8 551.25 L429.2 551.2 L429.6 551.37 L430 551.7 L430.4 551.45 L430.8 550.28 L431.2 551.19 L431.6 551.22 L432 551.48 L432.4 551.26 L432.8 550.98 L433.2 550.95 L433.6 551.09 L434 550.97 L434.4 551.66 L434.8 551.39 L435.2 551.21 L435.6 551.51 L436 551.89 L436.4 551.12 L436.8 551.18 L437.2 551.09 L437.6 550.79 L438 550.99 L438.4 550.89 L438.8 551.36 L439.2 551.35 L439.6 551.49 L440 550.96 L440.4 551.54 L440.8 550.91 L441.2 551.17 L441.6 551.66 L442 551.65 L442.4 551.61 L442.8 551.95 L443.2 551.61 L443.6 551.19 L444 551.21 L444.4 551.04 L444.8 551.38 L445.2 551.06 L445.6 551.12 L446 551.01 L446.4 550.78 L446.8 552.15 L447.2 551.64 L447.6 550.68 L448 551.51 L448.4 551.19 L448.8 550.69 L449.2 551.32 L449.6 551.47 L450 551.6 L450.4 551.78 L450.8 551.15 L451.2 551.41 L451.6 551.66 L452 551.62 L452.4 551.58 L452.8 551.5 L453.2 551.88 L453.6 551.07 L454 551 L454.4 552.07 L454.8 551.64 L455.2 551.88 L455.6 551.6 L456 551.42 L456.4 551.39 L456.8 551.6 L457.2 551.41 L457.6 551.55 L458 551.56 L458.4 551.86 L458.8 551.86 L459.2 552.13 L459.6 551.39 L460 551.62 L460.4 551.96 L460.8 551.77 L461.2 550.87 L461.6 551.79 L462 551.68 L462.4 551.54 L462.8 551.57 L463.2 551.48 L463.6 552.11 L464 551.96 L464.4 551.82 L464.8 552.12 L465.2 552.08 L465.6 551.51 L466 551.45 L466.4 551.48 L466.8 552.06 L467.2 551.82 L467.6 552.23 L468 552.02 L468.4 551.79 L468.8 551.46 L469.2 551.8 L469.6 552.62 L470 551.68 L470.4 551.65 L470.8 551.85 L471.2 552.38 L471.6 551.93 L472 551.6 L472.4 551.77 L472.8 551.93 L473.2 552.01 L473.6 552.33 L474 552.82 L474.4 552.46 L474.8 552.24 L475.2 552.03 L475.6 551.79 L476 552.25 L476.4 552.48 L476.8 552.35 L477.2 552.05 L477.6 552.32 L478 552.04 L478.4 552.07 L478.8 552.05 L479.2 552.16 L479.6 552.12 L480 552.48 L480.4 552.16 L480.8 552.14 L481.2 552.52 L481.6 552.41 L482 552.56 L482.4 551.96 L482.8 552.64 L483.2 552.22 L483.6 551.89 L484 552.19 L484.4 551.85 L484.8 551.94 L485.2 552.14 L485.6 552.59 L486 551.85 L486.4 552.39 L486.8 552.22 L487.2 552.82 L487.6 552.39 L488 552.53 L488.4 552.8 L488.8 552 L489.2 552.25 L489.6 551.89 L490 552.11 L490.4 552.5 L490.8 552.35 L491.2 552.54 L491.6 552.3 L492 552.21 L492.4 552.4 L492.8 552.17 L493.2 552.11 L493.6 551.97 L494 552.45 L494.4 552.64 L494.8 552.12 L495.2 552.37 L495.6 551.8 L496 552.16 L496.4 552.58 L496.8 552.15 L497.2 552.72 L497.6 552.46 L498 552.72 L498.4 552.44 L498.8 552.18 L499.2 552.64 L499.6 552.9 L500 552.51 L500.4 552.82 L500.8 552.49 L501.2 552.62 L501.6 553.15 L502 552.77 L502.4 552.49 L502.8 552.99 L503.2 552.86 L503.6 552.69 L504 553.11 L504.4 551.99 L504.8 553.12 L505.2 553.57 L505.6 553.09 L506 552.42 L506.4 553.48 L506.8 553.88 L507.2 553.29 L507.6 552.8 L508 552.96 L508.4 553.16 L508.8 553.29 L509.2 553.64 L509.6 553.48 L510 552.61 L510.4 553.26 L510.8 553.35 L511.2 554.02 L511.6 553.27 L512 553.04 L512.4 553.42 L512.8 553.64 L513.2 553 L513.6 553.96 L514 553.61 L514.4 553.94 L514.8 553.93 L515.2 553.91 L515.6 554.22 L516 554.34 L516.4 553.71 L516.8 553.84 L517.2 554.23 L517.6 553.98 L518 553.76 L518.4 554.01 L518.8 553.74 L519.2 553.88 L519.6 552.97 L520 554.13 L520.4 554.71 L520.8 554.38 L521.2 554.4 L521.6 554.27 L522 554 L522.4 554.43 L522.8 554.32 L523.2 554.29 L523.6 554.45 L524 554.22 L524.4 554.47 L524.8 554.67 L525.2 554.81 L525.6 554.57 L526 554.81 L526.4 554.63 L526.8 553.87 L527.2 554 L527.6 554.57 L528 554.3 L528.4 554.85 L528.8 554.26 L529.2 554.56 L529.6 554.52 L530 554.46 L530.4 554.51 L530.8 554.69 L531.2 554.72 L531.6 554.51 L532 554.73 L532.4 554.84 L532.8 554.6 L533.2 554.43 L533.6 554.42 L534 554.47 L534.4 554.44 L534.8 554.62 L535.2 555.45 L535.6 554.93 L536 554.56 L536.4 554.72 L536.8 554.7 L537.2 554.9 L537.6 554.92 L538 554.12 L538.4 555.1 L538.8 554.05 L539.2 554.3 L539.6 553.95 L540 553.61 L540.4 553.52 L540.8 554.67 L541.2 554.46 L541.6 553.6 L542 553.5 L542.4 554.27 L542.8 553.42 L543.2 553.8 L543.6 554.24 L544 553.76" fill="none" stroke="#00FF00" stroke-width="1.6" stroke-linejoin="round"/>
<path d="M108 717.9 L111.2 716.1 L116 716.6 L120.8 717.1 L125.6 716.7 L130.4 717.7 L133.5 717.4 L136.7 719 L139.9 716.1 L142.3 716.6 L144.7 715.8 L147.9 718.2 L151.1 717.4 L154.3 717.1 L156.7 715.5 L159.1 717.4 L161.5 716.6 L163.9 717.4 L167.1 719.8 L170.3 719.3 L174.3 718.2 L178.3 718.7 L180.7 719.8 L182.7 718.7 L183.2 719 L184 710 L186.7 681.3 L189.3 649.8 L191.9 621 L194.5 597.5 L197.1 580.4 L199.2 570 L201.1 566.6 L202.3 568.6 L203.7 570.8 L205.5 572.2 L207.6 573.1 L210.5 573.9 L214.2 574.64 L215.2 574.34 L216.2 573.96 L217.2 573.61 L218.2 573.83 L219.2 573.7 L220.2 573.9 L221.2 573.73 L222.2 573.76 L223.2 573.75 L224.2 573.7 L225.2 573.63 L226.2 573.65 L227.2 573.65 L228.2 573.51 L229.2 573.49 L230.2 573.25 L231.2 573.43 L232.2 573.29 L233.2 573.4 L234.2 573.2 L235.2 573.03 L236.2 572.96 L237.2 572.87 L238.2 572.98 L239.2 572.9 L240.2 572.9 L241.2 572.92 L242.2 572.85 L243.2 572.69 L244.2 572.44 L245.2 572.49 L246.2 572.65 L247.2 572.9 L248.2 572.77 L249.2 572.9 L250.2 572.68 L251.2 572.91 L252.2 572.66 L253.2 572.45 L254.2 572.17 L255.2 572.18 L256.2 572.3 L257.2 572.51 L258.2 572.17 L259.2 572.13 L260.2 571.91 L261.2 572.1 L262.2 571.76 L263.2 571.71 L264.2 571.4 L265.2 571.66 L266.2 571.44 L267.2 571.62 L268.2 571.37 L269.2 571.53 L270.2 571.31 L271.2 571.4 L272.2 571.33 L273.2 571.67 L274.2 571.55 L275.2 571.42 L276.2 570.89 L277.2 570.75 L278.2 570.94 L279.2 571.08 L280.2 571.01 L281.2 570.7 L282.2 570.82 L283.2 570.59 L284.2 570.8 L285.2 570.7 L286.2 570.98 L287.2 570.66 L288.2 570.78 L289.2 570.55 L290.2 570.6 L291.2 570.27 L292.2 570.08 L293.2 569.88 L294.2 569.89 L295.2 569.95 L296.2 569.83 L297.2 569.65 L298.2 569.49 L299.2 569.31 L300.2 569.24 L301.2 569.14 L302.2 569.29 L303.2 569.29 L304.2 569.51 L305.2 569.48 L306.2 569.25 L307.2 569.04 L308.2 568.65 L309.2 568.66 L310.2 568.44 L311.2 568.69 L312.2 568.44 L313.2 568.43 L314.2 568.03 L315.2 568.06 L316.2 567.76 L317.2 567.35 L318.2 567.66 L319.2 568.14 L320.2 568.72 L321.2 568.1 L322.2 567.01 L323.2 566.55 L324.2 566.4 L325.2 566.08 L326.2 566.23 L327.2 566.02 L328.2 566.3 L329.2 566.45 L330.2 566.52 L331.2 566.45 L332.2 566.26 L333.2 566.18 L334 565.87 L334.4 565.9 L334.8 565.72 L335.2 565.71 L335.6 565.71 L336 565.64 L336.4 565.51 L336.8 565.56 L337.2 565.54 L337.6 565.49 L338 565.38 L338.4 565.23 L338.8 565.33 L339.2 565.3 L339.6 565.06 L340 564.88 L340.4 565.03 L340.8 565.09 L341.2 565.02 L341.6 564.77 L342 564.96 L342.4 564.68 L342.8 564.81 L343.2 564.62 L343.6 564.7 L344 564.59 L344.4 564.46 L344.8 564.5 L345.2 564.31 L345.6 564.27 L346 564.22 L346.4 564.11 L346.8 564.23 L347.2 564.17 L347.6 564.02 L348 563.86 L348.4 563.94 L348.8 563.86 L349.2 563.83 L349.6 563.71 L350 563.63 L350.4 563.72 L350.8 563.47 L351.2 563.44 L351.6 563.23 L352 563.3 L352.4 563.22 L352.8 563.17 L353.2 563.2 L353.6 563.01 L354 563.06 L354.4 562.91 L354.8 562.83 L355.2 562.6 L355.6 562.8 L356 562.76 L356.4 562.49 L356.8 562.47 L357.2 562.25 L357.6 562.36 L358 562.19 L358.4 562.32 L358.8 562.18 L359.2 562.21 L359.6 561.94 L360 561.75 L360.4 561.9 L360.8 561.76 L361.2 562.04 L361.6 561.73 L362 561.83 L362.4 561.62 L362.8 561.41 L363.2 561.14 L363.6 561.27 L364 561.32 L364.4 561.15 L364.8 561.11 L365.2 561.03 L365.6 560.66 L366 560.86 L366.4 560.58 L366.8 560.63 L367.2 560.8 L367.6 560.11 L368 560.33 L368.4 560.36 L368.8 560.41 L369.2 560.13 L369.6 559.87 L370 560.09 L370.4 559.96 L370.8 559.41 L371.2 559.68 L371.6 559.23 L372 558.95 L372.4 559.19 L372.8 559.11 L373.2 558.77 L373.6 559.53 L374 558.75 L374.4 559.03 L374.8 559.02 L375.2 559.26 L375.6 558.61 L376 558.96 L376.4 558.24 L376.8 558.41 L377.2 558.24 L377.6 558 L378 558.23 L378.4 558.53 L378.8 558.5 L379.2 558.06 L379.6 557.53 L380 557.52 L380.4 557.79 L380.8 557.7 L381.2 557.61 L381.6 557.31 L382 557.06 L382.4 557.34 L382.8 557.13 L383.2 557.44 L383.6 556.79 L384 557.13 L384.4 557.2 L384.8 557.3 L385.2 557.22 L385.6 556.31 L386 556.19 L386.4 556.49 L386.8 556.12 L387.2 555.61 L387.6 556.66 L388 556.3 L388.4 556.39 L388.8 556.07 L389.2 556.3 L389.6 555.95 L390 555.85 L390.4 556.33 L390.8 555.3 L391.2 555.77 L391.6 555.03 L392 555.94 L392.4 555.32 L392.8 554.94 L393.2 554.68 L393.6 555.13 L394 555.8 L394.4 555.25 L394.8 554.51 L395.2 554.3 L395.6 555.85 L396 554.67 L396.4 554.31 L396.8 554.79 L397.2 554.88 L397.6 555.16 L398 554.51 L398.4 554.29 L398.8 554.69 L399.2 554.15 L399.6 554.48 L400 554.37 L400.4 554.58 L400.8 553.97 L401.2 553.93 L401.6 554.2 L402 554.21 L402.4 553.51 L402.8 553.68 L403.2 553.96 L403.6 553.73 L404 554.56 L404.4 554 L404.8 554.13 L405.2 553.64 L405.6 553.65 L406 553.62 L406.4 553.89 L406.8 553.38 L407.2 553.97 L407.6 553.17 L408 553.7 L408.4 553.42 L408.8 553.17 L409.2 553.78 L409.6 553.54 L410 553.12 L410.4 552.89 L410.8 553.39 L411.2 552.81 L411.6 553.23 L412 552.71 L412.4 553.01 L412.8 552.66 L413.2 552.85 L413.6 553.43 L414 553.43 L414.4 552.66 L414.8 552.7 L415.2 552.21 L415.6 552.83 L416 553.08 L416.4 552.39 L416.8 552.34 L417.2 552.73 L417.6 552.4 L418 552.62 L418.4 553.05 L418.8 552.66 L419.2 552.7 L419.6 553.08 L420 552.5 L420.4 552.63 L420.8 552.39 L421.2 552.09 L421.6 552.85 L422 551.83 L422.4 552.3 L422.8 551.86 L423.2 551.95 L423.6 551.77 L424 552.08 L424.4 552.3 L424.8 552.55 L425.2 551.47 L425.6 552.15 L426 551.92 L426.4 551.82 L426.8 551.97 L427.2 552.05 L427.6 551.93 L428 551.94 L428.4 552.64 L428.8 551.93 L429.2 551.99 L429.6 551.47 L430 552.19 L430.4 551.64 L430.8 551.76 L431.2 551.51 L431.6 551.72 L432 551.42 L432.4 551.28 L432.8 551.23 L433.2 551.54 L433.6 551.65 L434 551.87 L434.4 552.16 L434.8 552.2 L435.2 551.36 L435.6 551.32 L436 551.78 L436.4 551.23 L436.8 551.87 L437.2 551.82 L437.6 551.15 L438 551.69 L438.4 551.9 L438.8 551.55 L439.2 551.29 L439.6 551.31 L440 551.5 L440.4 551.08 L440.8 551.41 L441.2 551.21 L441.6 551.02 L442 550.92 L442.4 551.41 L442.8 550.91 L443.2 551.26 L443.6 550.56 L444 551.08 L444.4 551.17 L444.8 551.23 L445.2 551.41 L445.6 551.26 L446 551.26 L446.4 550.97 L446.8 550.71 L447.2 550.66 L447.6 550.78 L448 551.11 L448.4 551.35 L448.8 551.13 L449.2 551.08 L449.6 551.26 L450 550.91 L450.4 551.08 L450.8 550.99 L451.2 551.1 L451.6 550.96 L452 550.62 L452.4 550.92 L452.8 550.79 L453.2 551.63 L453.6 551.54 L454 550.88 L454.4 550.82 L454.8 551.12 L455.2 550.63 L455.6 551.54 L456 551.13 L456.4 551.01 L456.8 551.52 L457.2 551.62 L457.6 551.26 L458 551.56 L458.4 550.7 L458.8 551.01 L459.2 551 L459.6 550.77 L460 551.6 L460.4 552.12 L460.8 550.92 L461.2 551.18 L461.6 551.73 L462 551.31 L462.4 551.42 L462.8 551.18 L463.2 551.57 L463.6 551.17 L464 551.75 L464.4 551.7 L464.8 551.68 L465.2 551.33 L465.6 551.54 L466 551.79 L466.4 551.37 L466.8 551.37 L467.2 550.98 L467.6 551.58 L468 551.74 L468.4 552.13 L468.8 551.46 L469.2 551.41 L469.6 552.31 L470 552.31 L470.4 551.62 L470.8 551.86 L471.2 551.46 L471.6 552.07 L472 552.55 L472.4 552.42 L472.8 551.85 L473.2 552.33 L473.6 552.04 L474 552.41 L474.4 552.17 L474.8 552.59 L475.2 552.83 L475.6 552.56 L476 552.61 L476.4 552.66 L476.8 552.85 L477.2 552.47 L477.6 552.59 L478 552.63 L478.4 553.15 L478.8 552.82 L479.2 552.99 L479.6 552.73 L480 552.44 L480.4 552.83 L480.8 553.13 L481.2 552.91 L481.6 552.87 L482 552.98 L482.4 553.31 L482.8 553.33 L483.2 553.23 L483.6 552.97 L484 553.1 L484.4 554.54 L484.8 553.35 L485.2 553.66 L485.6 553.6 L486 553.1 L486.4 554.02 L486.8 553.66 L487.2 553.39 L487.6 553.98 L488 553.59 L488.4 553.93 L488.8 553.44 L489.2 553.86 L489.6 554.18 L490 553.85 L490.4 553.6 L490.8 553.84 L491.2 554.37 L491.6 553.69 L492 553.8 L492.4 554.55 L492.8 554.38 L493.2 554.38 L493.6 554.29 L494 554.61 L494.4 554.8 L494.8 554.73 L495.2 554.06 L495.6 554.88 L496 554.19 L496.4 555.33 L496.8 554.68 L497.2 555.07 L497.6 555.02 L498 554.76 L498.4 555.4 L498.8 555.13 L499.2 555.8 L499.6 555.37 L500 555.31 L500.4 556.07 L500.8 555.75 L501.2 555.35 L501.6 555.14 L502 556.07 L502.4 555.89 L502.8 555.94 L503.2 555.48 L503.6 555.44 L504 555.39 L504.4 556.11 L504.8 555.73 L505.2 556.04 L505.6 555.17 L506 556.26 L506.4 555.73 L506.8 555.13 L507.2 555.64 L507.6 556.24 L508 556.65 L508.4 555.3 L508.8 555.8 L509.2 556.34 L509.6 555.83 L510 556.25 L510.4 556.1 L510.8 556.51 L511.2 556.04 L511.6 556.46 L512 556.35 L512.4 556.71 L512.8 556.7 L513.2 557.1 L513.6 556.89 L514 557.45 L514.4 556.39 L514.8 556.88 L515.2 557.27 L515.6 557.1 L516 556.24 L516.4 557.27 L516.8 557.05 L517.2 558.07 L517.6 557.27 L518 557.58 L518.4 557.09 L518.8 557.68 L519.2 556.58 L519.6 557.21 L520 557.47 L520.4 557.12 L520.8 558.02 L521.2 557.75 L521.6 558.35 L522 557.38 L522.4 557.63 L522.8 558.18 L523.2 557.85 L523.6 558.34 L524 558.34 L524.4 557.93 L524.8 558.27 L525.2 558.46 L525.6 558.41 L526 558.32 L526.4 558.27 L526.8 558.41 L527.2 558.86 L527.6 559.26 L528 558.15 L528.4 558.33 L528.8 558.65 L529.2 559.22 L529.6 558.49 L530 559.58 L530.4 559.59 L530.8 558.08 L531.2 559.13 L531.6 559.13 L532 558.82 L532.4 558.38 L532.8 559.12 L533.2 558.92 L533.6 559.48 L534 559.3 L534.4 558.82 L534.8 559.81 L535.2 559.78 L535.6 559.69 L536 559.22 L536.4 559.52 L536.8 559.25 L537.2 559.04 L537.6 558.59 L538 559.28 L538.4 558.51 L538.8 559.37 L539.2 558.65 L539.6 559.13 L540 558.93 L540.4 558.6 L540.8 558.6 L541.2 558.71 L541.6 559.36 L542 558.94 L542.4 558.68 L542.8 558.99 L543.2 558.27" fill="none" stroke="#FF00FF" stroke-width="1.6" stroke-linejoin="round"/>
<rect x="173.2" y="538.4" width="41.5" height="192.05" fill="#808080" fill-opacity="0.29"/>
<path d="M214.5 730.45V538.4" stroke="#303030" stroke-width="1.0" stroke-dasharray="11 6" stroke-dashoffset="0" fill="none"/><path d="M367.05 730.45V538.4" stroke="#303030" stroke-width="1.5" stroke-dasharray="11 6" stroke-dashoffset="0" fill="none"/><path d="M448.9 730.45V538.4" stroke="#303030" stroke-width="1.5" stroke-dasharray="11 6" stroke-dashoffset="0" fill="none"/><path d="M539.65 730.45V538.4" stroke="#303030" stroke-width="1.5" stroke-dasharray="11 6" stroke-dashoffset="0" fill="none"/>
<rect x="77.17" y="538.4" width="538.93" height="192.05" fill="none" stroke="#505050" stroke-width="1.25"/><path d="M77.17 551.5h6M616.1 551.5h-6M77.17 579.33h3.2M616.1 579.33h-3.2M77.17 618.55h3.2M616.1 618.55h-3.2M77.17 685.6h6M616.1 685.6h-6M77.17 695.79h3.2M616.1 695.79h-3.2M77.17 707.19h3.2M616.1 707.19h-3.2M77.17 720.1h3.2M616.1 720.1h-3.2M168.6 730.45v-6.0M168.6 538.4v6.0M180.12 730.45v-6.0M180.12 538.4v6.0M191.65 730.45v-6.0M191.65 538.4v6.0M203.17 730.45v-6.0M203.17 538.4v6.0M214.6 730.45v-6.0M214.6 538.4v6.0M237.63 730.45v-4.5M237.63 538.4v4.5M253.14 730.45v-4.5M253.14 538.4v4.5M264.14 730.45v-4.5M264.14 538.4v4.5M272.68 730.45v-4.5M272.68 538.4v4.5M279.65 730.45v-4.5M279.65 538.4v4.5M285.55 730.45v-4.5M285.55 538.4v4.5M290.66 730.45v-4.5M290.66 538.4v4.5M295.16 730.45v-4.5M295.16 538.4v4.5M299.19 730.45v-8.4M299.19 538.4v8.4M325.7 730.45v-4.5M325.7 538.4v4.5M341.21 730.45v-4.5M341.21 538.4v4.5M352.21 730.45v-4.5M352.21 538.4v4.5M360.75 730.45v-4.5M360.75 538.4v4.5M367.72 730.45v-4.5M367.72 538.4v4.5M373.62 730.45v-4.5M373.62 538.4v4.5M378.73 730.45v-4.5M378.73 538.4v4.5M383.23 730.45v-4.5M383.23 538.4v4.5M387.26 730.45v-8.4M387.26 538.4v8.4M413.77 730.45v-4.5M413.77 538.4v4.5M429.28 730.45v-4.5M429.28 538.4v4.5M440.28 730.45v-4.5M440.28 538.4v4.5M448.82 730.45v-4.5M448.82 538.4v4.5M455.79 730.45v-4.5M455.79 538.4v4.5M461.69 730.45v-4.5M461.69 538.4v4.5M466.8 730.45v-4.5M466.8 538.4v4.5M471.3 730.45v-4.5M471.3 538.4v4.5M475.33 730.45v-8.4M475.33 538.4v8.4M501.84 730.45v-4.5M501.84 538.4v4.5M517.35 730.45v-4.5M517.35 538.4v4.5M528.35 730.45v-4.5M528.35 538.4v4.5M536.89 730.45v-4.5M536.89 538.4v4.5M543.86 730.45v-4.5M543.86 538.4v4.5M549.76 730.45v-4.5M549.76 538.4v4.5M554.87 730.45v-4.5M554.87 538.4v4.5M559.37 730.45v-4.5M559.37 538.4v4.5M563.4 730.45v-8.4M563.4 538.4v8.4M589.91 730.45v-4.5M589.91 538.4v4.5M605.42 730.45v-4.5M605.42 538.4v4.5" stroke="#505050" stroke-width="1.15" fill="none"/>
<g fill="#333333"><text transform="translate(76.77 527.7) scale(1.2 1)" font-size="24" font-style="italic" letter-spacing="-0.9">c.</text><text x="70.72" y="556.5" font-size="22" text-anchor="end" letter-spacing="-0.25">0.04</text><text x="70.72" y="690.6" font-size="22" text-anchor="end" letter-spacing="-0.25">0.01</text><text x="169" y="754.65" font-size="22" text-anchor="middle" letter-spacing="0.6">-2</text><text x="214.7" y="754.65" font-size="22" text-anchor="middle">0</text><text x="278.39" y="754.65" font-size="22" letter-spacing="-1">10</text><path d="M300.79 743.75h9" stroke="#333333" stroke-width="0.9"/><text x="311.09" y="747.95" font-size="14.5">3</text><text x="366.46" y="754.65" font-size="22" letter-spacing="-1">10</text><path d="M388.86 743.75h9" stroke="#333333" stroke-width="0.9"/><text x="399.16" y="747.95" font-size="14.5">2</text><text x="454.53" y="754.65" font-size="22" letter-spacing="-1">10</text><path d="M476.93 743.75h9" stroke="#333333" stroke-width="0.9"/><text x="487.23" y="747.95" font-size="14.5">1</text><text x="548.4" y="754.65" font-size="22" letter-spacing="-1">10</text><text x="570.6" y="747.95" font-size="14.5">0</text><text x="393.6" y="769.45" font-size="24" font-style="italic">t</text><text transform="translate(402.3 762.15) scale(1.08 1)" font-size="14.5" letter-spacing="0.1">NaCl</text></g>
<text transform="translate(21.6 375.9) rotate(-90)" font-size="22.5" text-anchor="middle" letter-spacing="0.45" fill="#333333">Apparent electrical conductivity (S/m)</text>
<rect x="83.2" y="318.2" width="83.1" height="110.1" fill="#fff" stroke="#505050" stroke-width="1"/><circle cx="103.6" cy="332.6" r="3.1" fill="#D95319"/><path d="M88 358.6H119" stroke="#00FF00" stroke-width="1.6"/><circle cx="103.6" cy="385.6" r="3.1" fill="#0072BD"/><path d="M88 412.6H119" stroke="#FF00FF" stroke-width="1.6"/><g fill="#333333"><text transform="translate(122.6 338) scale(1.3 1)" font-size="16.8" font-style="italic">σ</text><text x="135" y="341" font-size="14" textLength="13.6" lengthAdjust="spacingAndGlyphs">M</text><text x="149.2" y="343.4" font-size="10.5" font-style="italic">x</text><text transform="translate(122.6 363.4) scale(1.3 1)" font-size="16.8" font-style="italic">σ</text><text x="135" y="368.7" font-size="14" textLength="13.6" lengthAdjust="spacingAndGlyphs">M</text><text x="149.2" y="371.1" font-size="10.5" font-style="italic">x</text><text transform="translate(136.2 356.7) scale(1.22 1)" font-size="14" font-style="italic" letter-spacing="0.35">sim</text><text transform="translate(122.6 390.8) scale(1.3 1)" font-size="16.8" font-style="italic">σ</text><text x="135" y="393.8" font-size="14" textLength="13.6" lengthAdjust="spacingAndGlyphs">M</text><text x="149.2" y="396.2" font-size="10.5" font-style="italic">y</text><text transform="translate(122.6 417) scale(1.3 1)" font-size="16.8" font-style="italic">σ</text><text x="135" y="422.3" font-size="14" textLength="13.6" lengthAdjust="spacingAndGlyphs">M</text><text x="149.2" y="424.7" font-size="10.5" font-style="italic">y</text><text transform="translate(136.2 410.3) scale(1.22 1)" font-size="14" font-style="italic" letter-spacing="0.35">sim</text></g></svg></body></html>
